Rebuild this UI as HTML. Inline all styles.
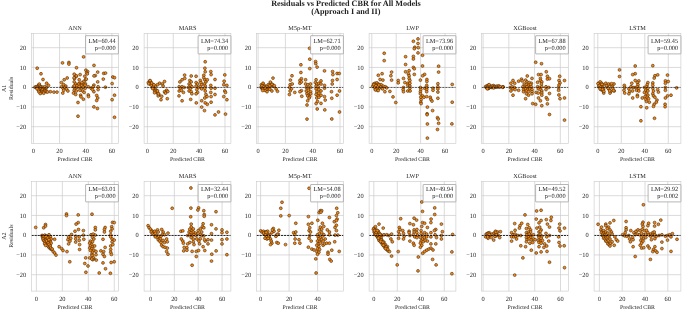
<!DOCTYPE html><html><head><meta charset="utf-8"><title>Residuals vs Predicted CBR</title><style>html,body{margin:0;padding:0;background:#fff}svg{display:block;filter:blur(0.3px)}</style></head><body><svg text-rendering="geometricPrecision" width="685" height="311" viewBox="0 0 685 311" font-family="Liberation Serif, serif">
<rect width="685" height="311" fill="#fff"/>
<text x="345.9" y="5.6" font-size="8.18" font-weight="bold" text-anchor="middle" fill="#222">Residuals vs Predicted CBR for All Models</text>
<text x="345.9" y="13.8" font-size="8.18" font-weight="bold" text-anchor="middle" fill="#222">(Approach I and II)</text>
<g>
<clipPath id="c0"><rect x="31.6" y="33.3" width="86.8" height="110.10000000000001"/></clipPath>
<line x1="33.40" x2="33.40" y1="33.3" y2="143.4" stroke="#cccccc" stroke-width="0.7"/>
<text x="33.40" y="153.0" font-size="6.4" text-anchor="middle" fill="#262626">0</text>
<line x1="59.56" x2="59.56" y1="33.3" y2="143.4" stroke="#cccccc" stroke-width="0.7"/>
<text x="59.56" y="153.0" font-size="6.4" text-anchor="middle" fill="#262626">20</text>
<line x1="85.72" x2="85.72" y1="33.3" y2="143.4" stroke="#cccccc" stroke-width="0.7"/>
<text x="85.72" y="153.0" font-size="6.4" text-anchor="middle" fill="#262626">40</text>
<line x1="111.88" x2="111.88" y1="33.3" y2="143.4" stroke="#cccccc" stroke-width="0.7"/>
<text x="111.88" y="153.0" font-size="6.4" text-anchor="middle" fill="#262626">60</text>
<line x1="31.6" x2="118.4" y1="47.70" y2="47.70" stroke="#cccccc" stroke-width="0.7"/>
<text x="26.2" y="49.90" font-size="6.4" text-anchor="end" fill="#262626">20</text>
<line x1="31.6" x2="118.4" y1="67.45" y2="67.45" stroke="#cccccc" stroke-width="0.7"/>
<text x="26.2" y="69.65" font-size="6.4" text-anchor="end" fill="#262626">10</text>
<line x1="31.6" x2="118.4" y1="87.20" y2="87.20" stroke="#cccccc" stroke-width="0.7"/>
<text x="26.2" y="89.40" font-size="6.4" text-anchor="end" fill="#262626">0</text>
<line x1="31.6" x2="118.4" y1="106.95" y2="106.95" stroke="#cccccc" stroke-width="0.7"/>
<text x="26.2" y="109.15" font-size="6.4" text-anchor="end" fill="#262626">−10</text>
<line x1="31.6" x2="118.4" y1="126.70" y2="126.70" stroke="#cccccc" stroke-width="0.7"/>
<text x="26.2" y="128.90" font-size="6.4" text-anchor="end" fill="#262626">−20</text>
<g clip-path="url(#c0)" fill="#f58812" stroke="#38230f" stroke-width="0.55">
<circle cx="83.6" cy="56.9" r="1.45"/>
<circle cx="62.5" cy="62.9" r="1.45"/>
<circle cx="68.9" cy="62.5" r="1.45"/>
<circle cx="68.9" cy="64.1" r="1.45"/>
<circle cx="94.0" cy="65.4" r="1.45"/>
<circle cx="37.2" cy="68.2" r="1.45"/>
<circle cx="76.5" cy="67.8" r="1.45"/>
<circle cx="85.9" cy="70.2" r="1.45"/>
<circle cx="87.6" cy="71.6" r="1.45"/>
<circle cx="86.6" cy="72.8" r="1.45"/>
<circle cx="41.0" cy="73.8" r="1.45"/>
<circle cx="97.7" cy="72.1" r="1.45"/>
<circle cx="103.7" cy="73.4" r="1.45"/>
<circle cx="105.5" cy="73.1" r="1.45"/>
<circle cx="74.2" cy="74.2" r="1.45"/>
<circle cx="80.1" cy="74.6" r="1.45"/>
<circle cx="95.3" cy="75.6" r="1.45"/>
<circle cx="112.8" cy="77.0" r="1.45"/>
<circle cx="114.5" cy="77.7" r="1.45"/>
<circle cx="43.0" cy="79.5" r="1.45"/>
<circle cx="67.2" cy="78.0" r="1.45"/>
<circle cx="64.2" cy="79.8" r="1.45"/>
<circle cx="76.3" cy="76.3" r="1.45"/>
<circle cx="74.5" cy="78.7" r="1.45"/>
<circle cx="79.2" cy="79.8" r="1.45"/>
<circle cx="84.8" cy="76.3" r="1.45"/>
<circle cx="85.5" cy="79.8" r="1.45"/>
<circle cx="83.8" cy="81.5" r="1.45"/>
<circle cx="103.3" cy="79.1" r="1.45"/>
<circle cx="97.7" cy="81.9" r="1.45"/>
<circle cx="46.6" cy="83.3" r="1.45"/>
<circle cx="61.4" cy="82.6" r="1.45"/>
<circle cx="112.1" cy="83.6" r="1.45"/>
<circle cx="48.5" cy="85.4" r="1.45"/>
<circle cx="63.7" cy="84.7" r="1.45"/>
<circle cx="65.8" cy="86.1" r="1.45"/>
<circle cx="74.2" cy="81.9" r="1.45"/>
<circle cx="75.7" cy="84.0" r="1.45"/>
<circle cx="79.2" cy="83.3" r="1.45"/>
<circle cx="82.0" cy="84.0" r="1.45"/>
<circle cx="85.5" cy="84.0" r="1.45"/>
<circle cx="93.9" cy="85.1" r="1.45"/>
<circle cx="50.4" cy="91.7" r="1.45"/>
<circle cx="53.9" cy="92.1" r="1.45"/>
<circle cx="57.0" cy="92.1" r="1.45"/>
<circle cx="61.6" cy="86.8" r="1.45"/>
<circle cx="63.0" cy="88.2" r="1.45"/>
<circle cx="65.1" cy="87.5" r="1.45"/>
<circle cx="66.5" cy="88.9" r="1.45"/>
<circle cx="67.9" cy="91.0" r="1.45"/>
<circle cx="63.7" cy="90.3" r="1.45"/>
<circle cx="62.8" cy="93.1" r="1.45"/>
<circle cx="73.5" cy="86.8" r="1.45"/>
<circle cx="75.0" cy="88.2" r="1.45"/>
<circle cx="77.0" cy="87.5" r="1.45"/>
<circle cx="79.2" cy="86.8" r="1.45"/>
<circle cx="81.3" cy="87.9" r="1.45"/>
<circle cx="83.4" cy="86.8" r="1.45"/>
<circle cx="85.2" cy="88.2" r="1.45"/>
<circle cx="74.2" cy="90.3" r="1.45"/>
<circle cx="76.3" cy="91.0" r="1.45"/>
<circle cx="79.9" cy="90.3" r="1.45"/>
<circle cx="82.7" cy="91.0" r="1.45"/>
<circle cx="84.1" cy="92.4" r="1.45"/>
<circle cx="73.5" cy="93.1" r="1.45"/>
<circle cx="75.7" cy="94.5" r="1.45"/>
<circle cx="88.3" cy="86.8" r="1.45"/>
<circle cx="91.1" cy="88.2" r="1.45"/>
<circle cx="93.2" cy="86.8" r="1.45"/>
<circle cx="93.9" cy="91.7" r="1.45"/>
<circle cx="92.5" cy="89.6" r="1.45"/>
<circle cx="98.1" cy="86.8" r="1.45"/>
<circle cx="98.1" cy="89.6" r="1.45"/>
<circle cx="105.4" cy="87.2" r="1.45"/>
<circle cx="80.6" cy="95.2" r="1.45"/>
<circle cx="81.0" cy="96.9" r="1.45"/>
<circle cx="88.3" cy="95.0" r="1.45"/>
<circle cx="88.5" cy="96.6" r="1.45"/>
<circle cx="96.7" cy="95.5" r="1.45"/>
<circle cx="97.7" cy="98.0" r="1.45"/>
<circle cx="114.5" cy="95.2" r="1.45"/>
<circle cx="83.4" cy="99.2" r="1.45"/>
<circle cx="96.7" cy="100.5" r="1.45"/>
<circle cx="112.1" cy="99.7" r="1.45"/>
<circle cx="78.0" cy="102.5" r="1.45"/>
<circle cx="93.9" cy="106.9" r="1.45"/>
<circle cx="97.4" cy="108.5" r="1.45"/>
<circle cx="78.0" cy="116.2" r="1.45"/>
<circle cx="114.5" cy="117.3" r="1.45"/>
<circle cx="35.0" cy="87.2" r="1.45"/>
<circle cx="36.1" cy="86.8" r="1.45"/>
<circle cx="37.0" cy="87.6" r="1.45"/>
<circle cx="37.6" cy="86.2" r="1.45"/>
<circle cx="38.2" cy="87.3" r="1.45"/>
<circle cx="38.8" cy="85.0" r="1.45"/>
<circle cx="39.3" cy="84.1" r="1.45"/>
<circle cx="39.9" cy="86.2" r="1.45"/>
<circle cx="39.0" cy="88.5" r="1.45"/>
<circle cx="40.2" cy="87.6" r="1.45"/>
<circle cx="41.1" cy="86.8" r="1.45"/>
<circle cx="41.7" cy="88.2" r="1.45"/>
<circle cx="42.5" cy="87.3" r="1.45"/>
<circle cx="40.5" cy="89.4" r="1.45"/>
<circle cx="39.3" cy="90.3" r="1.45"/>
<circle cx="41.7" cy="90.0" r="1.45"/>
<circle cx="42.9" cy="89.1" r="1.45"/>
<circle cx="44.0" cy="87.9" r="1.45"/>
<circle cx="44.9" cy="88.8" r="1.45"/>
<circle cx="46.1" cy="88.5" r="1.45"/>
<circle cx="39.9" cy="91.7" r="1.45"/>
<circle cx="41.1" cy="92.6" r="1.45"/>
<circle cx="42.5" cy="92.0" r="1.45"/>
<circle cx="44.0" cy="91.7" r="1.45"/>
<circle cx="45.2" cy="91.1" r="1.45"/>
<circle cx="46.6" cy="91.7" r="1.45"/>
<circle cx="47.5" cy="92.0" r="1.45"/>
<circle cx="43.7" cy="93.2" r="1.45"/>
<circle cx="40.2" cy="93.5" r="1.45"/>
<circle cx="38.8" cy="91.7" r="1.45"/>
<circle cx="38.2" cy="89.7" r="1.45"/>
<circle cx="37.0" cy="88.8" r="1.45"/>
<circle cx="45.8" cy="87.3" r="1.45"/>
<circle cx="44.6" cy="86.8" r="1.45"/>
<circle cx="74.1" cy="77.8" r="1.45"/>
<circle cx="76.4" cy="75.9" r="1.45"/>
<circle cx="86.3" cy="79.1" r="1.45"/>
<circle cx="81.8" cy="82.6" r="1.45"/>
<circle cx="78.6" cy="84.2" r="1.45"/>
<circle cx="81.8" cy="85.5" r="1.45"/>
<circle cx="85.0" cy="85.2" r="1.45"/>
<circle cx="74.4" cy="85.8" r="1.45"/>
<circle cx="77.0" cy="85.8" r="1.45"/>
<circle cx="94.0" cy="75.9" r="1.45"/>
<circle cx="87.3" cy="73.9" r="1.45"/>
<circle cx="79.2" cy="86.5" r="1.45"/>
<circle cx="83.1" cy="87.1" r="1.45"/>
</g>
<line x1="31.6" x2="118.4" y1="87.50" y2="87.50" stroke="#0a0a0a" stroke-width="0.6" stroke-dasharray="2.1,0.95"/>
<rect x="31.6" y="33.3" width="86.8" height="110.10000000000001" fill="none" stroke="#c8c8c8" stroke-width="0.6"/>
<rect x="85.6" y="35.699999999999996" width="32.8" height="18.2" rx="0.4" fill="#fff" fill-opacity="0.9" stroke="#8f8f8f" stroke-width="0.65"/>
<text x="115.6" y="43.1" font-size="6.3" text-anchor="end" fill="#222">LM=60.44</text>
<text x="115.6" y="49.9" font-size="6.3" text-anchor="end" fill="#222">p=0.000</text>
<text x="75.0" y="30.2" font-size="6.25" text-anchor="middle" fill="#262626">ANN</text>
<text x="75.0" y="161.0" font-size="5.8" text-anchor="middle" fill="#262626">Predicted CBR</text>
<text transform="translate(5.6,88.3) rotate(-90)" font-size="6" text-anchor="middle" fill="#262626">A1</text>
<text transform="translate(12.9,88.3) rotate(-90)" font-size="6" text-anchor="middle" fill="#262626">Residuals</text>
</g>
<g>
<clipPath id="c1"><rect x="144.1" y="33.3" width="86.8" height="110.10000000000001"/></clipPath>
<line x1="147.40" x2="147.40" y1="33.3" y2="143.4" stroke="#cccccc" stroke-width="0.7"/>
<text x="147.40" y="153.0" font-size="6.4" text-anchor="middle" fill="#262626">0</text>
<line x1="173.26" x2="173.26" y1="33.3" y2="143.4" stroke="#cccccc" stroke-width="0.7"/>
<text x="173.26" y="153.0" font-size="6.4" text-anchor="middle" fill="#262626">20</text>
<line x1="199.12" x2="199.12" y1="33.3" y2="143.4" stroke="#cccccc" stroke-width="0.7"/>
<text x="199.12" y="153.0" font-size="6.4" text-anchor="middle" fill="#262626">40</text>
<line x1="224.98" x2="224.98" y1="33.3" y2="143.4" stroke="#cccccc" stroke-width="0.7"/>
<text x="224.98" y="153.0" font-size="6.4" text-anchor="middle" fill="#262626">60</text>
<line x1="144.1" x2="230.89999999999998" y1="47.70" y2="47.70" stroke="#cccccc" stroke-width="0.7"/>
<text x="138.7" y="49.90" font-size="6.4" text-anchor="end" fill="#262626">20</text>
<line x1="144.1" x2="230.89999999999998" y1="67.45" y2="67.45" stroke="#cccccc" stroke-width="0.7"/>
<text x="138.7" y="69.65" font-size="6.4" text-anchor="end" fill="#262626">10</text>
<line x1="144.1" x2="230.89999999999998" y1="87.20" y2="87.20" stroke="#cccccc" stroke-width="0.7"/>
<text x="138.7" y="89.40" font-size="6.4" text-anchor="end" fill="#262626">0</text>
<line x1="144.1" x2="230.89999999999998" y1="106.95" y2="106.95" stroke="#cccccc" stroke-width="0.7"/>
<text x="138.7" y="109.15" font-size="6.4" text-anchor="end" fill="#262626">−10</text>
<line x1="144.1" x2="230.89999999999998" y1="126.70" y2="126.70" stroke="#cccccc" stroke-width="0.7"/>
<text x="138.7" y="128.90" font-size="6.4" text-anchor="end" fill="#262626">−20</text>
<g clip-path="url(#c1)" fill="#f58812" stroke="#38230f" stroke-width="0.55">
<circle cx="205.2" cy="61.8" r="1.45"/>
<circle cx="204.9" cy="68.3" r="1.45"/>
<circle cx="205.2" cy="71.8" r="1.45"/>
<circle cx="210.8" cy="71.6" r="1.45"/>
<circle cx="211.1" cy="74.6" r="1.45"/>
<circle cx="203.8" cy="75.3" r="1.45"/>
<circle cx="184.6" cy="75.1" r="1.45"/>
<circle cx="191.2" cy="76.0" r="1.45"/>
<circle cx="196.1" cy="76.3" r="1.45"/>
<circle cx="224.8" cy="74.9" r="1.45"/>
<circle cx="148.4" cy="82.6" r="1.45"/>
<circle cx="149.8" cy="80.9" r="1.45"/>
<circle cx="150.9" cy="82.3" r="1.45"/>
<circle cx="150.1" cy="84.0" r="1.45"/>
<circle cx="151.9" cy="84.0" r="1.45"/>
<circle cx="153.3" cy="85.4" r="1.45"/>
<circle cx="154.0" cy="86.8" r="1.45"/>
<circle cx="155.4" cy="86.1" r="1.45"/>
<circle cx="152.3" cy="87.5" r="1.45"/>
<circle cx="154.0" cy="88.9" r="1.45"/>
<circle cx="155.7" cy="89.6" r="1.45"/>
<circle cx="156.8" cy="91.0" r="1.45"/>
<circle cx="154.7" cy="91.0" r="1.45"/>
<circle cx="157.5" cy="93.1" r="1.45"/>
<circle cx="158.9" cy="94.5" r="1.45"/>
<circle cx="158.2" cy="95.9" r="1.45"/>
<circle cx="161.7" cy="96.3" r="1.45"/>
<circle cx="161.0" cy="99.7" r="1.45"/>
<circle cx="167.3" cy="98.7" r="1.45"/>
<circle cx="159.6" cy="83.3" r="1.45"/>
<circle cx="162.4" cy="84.0" r="1.45"/>
<circle cx="164.5" cy="81.5" r="1.45"/>
<circle cx="163.1" cy="86.1" r="1.45"/>
<circle cx="166.6" cy="90.3" r="1.45"/>
<circle cx="165.2" cy="92.4" r="1.45"/>
<circle cx="157.5" cy="84.7" r="1.45"/>
<circle cx="179.9" cy="81.9" r="1.45"/>
<circle cx="182.1" cy="79.8" r="1.45"/>
<circle cx="184.8" cy="78.4" r="1.45"/>
<circle cx="179.2" cy="86.8" r="1.45"/>
<circle cx="180.6" cy="88.2" r="1.45"/>
<circle cx="182.1" cy="86.8" r="1.45"/>
<circle cx="184.2" cy="87.5" r="1.45"/>
<circle cx="179.2" cy="91.0" r="1.45"/>
<circle cx="181.3" cy="90.3" r="1.45"/>
<circle cx="183.4" cy="92.4" r="1.45"/>
<circle cx="179.0" cy="95.9" r="1.45"/>
<circle cx="182.1" cy="100.8" r="1.45"/>
<circle cx="189.8" cy="80.5" r="1.45"/>
<circle cx="191.2" cy="81.9" r="1.45"/>
<circle cx="189.1" cy="84.0" r="1.45"/>
<circle cx="190.5" cy="85.4" r="1.45"/>
<circle cx="188.3" cy="87.5" r="1.45"/>
<circle cx="190.5" cy="88.2" r="1.45"/>
<circle cx="191.9" cy="86.8" r="1.45"/>
<circle cx="189.1" cy="91.0" r="1.45"/>
<circle cx="191.2" cy="91.7" r="1.45"/>
<circle cx="191.9" cy="93.8" r="1.45"/>
<circle cx="190.7" cy="99.4" r="1.45"/>
<circle cx="196.1" cy="82.6" r="1.45"/>
<circle cx="197.5" cy="84.0" r="1.45"/>
<circle cx="196.1" cy="86.1" r="1.45"/>
<circle cx="198.2" cy="87.5" r="1.45"/>
<circle cx="196.8" cy="89.6" r="1.45"/>
<circle cx="197.5" cy="92.4" r="1.45"/>
<circle cx="196.1" cy="93.8" r="1.45"/>
<circle cx="196.3" cy="102.9" r="1.45"/>
<circle cx="200.3" cy="80.5" r="1.45"/>
<circle cx="201.0" cy="82.6" r="1.45"/>
<circle cx="201.7" cy="84.7" r="1.45"/>
<circle cx="200.3" cy="86.8" r="1.45"/>
<circle cx="201.7" cy="88.9" r="1.45"/>
<circle cx="203.8" cy="77.7" r="1.45"/>
<circle cx="204.8" cy="79.8" r="1.45"/>
<circle cx="205.9" cy="81.9" r="1.45"/>
<circle cx="204.5" cy="84.0" r="1.45"/>
<circle cx="205.2" cy="86.1" r="1.45"/>
<circle cx="204.8" cy="88.2" r="1.45"/>
<circle cx="205.2" cy="91.0" r="1.45"/>
<circle cx="205.9" cy="94.5" r="1.45"/>
<circle cx="207.0" cy="96.6" r="1.45"/>
<circle cx="204.8" cy="98.0" r="1.45"/>
<circle cx="201.7" cy="100.8" r="1.45"/>
<circle cx="205.2" cy="102.9" r="1.45"/>
<circle cx="207.3" cy="104.3" r="1.45"/>
<circle cx="201.7" cy="107.1" r="1.45"/>
<circle cx="204.5" cy="110.6" r="1.45"/>
<circle cx="207.3" cy="79.8" r="1.45"/>
<circle cx="210.8" cy="85.4" r="1.45"/>
<circle cx="211.1" cy="88.2" r="1.45"/>
<circle cx="210.8" cy="92.4" r="1.45"/>
<circle cx="211.1" cy="96.6" r="1.45"/>
<circle cx="211.1" cy="102.2" r="1.45"/>
<circle cx="215.0" cy="79.5" r="1.45"/>
<circle cx="215.0" cy="88.2" r="1.45"/>
<circle cx="215.0" cy="94.5" r="1.45"/>
<circle cx="224.1" cy="81.2" r="1.45"/>
<circle cx="223.8" cy="84.7" r="1.45"/>
<circle cx="226.9" cy="85.4" r="1.45"/>
<circle cx="224.8" cy="91.0" r="1.45"/>
<circle cx="225.5" cy="92.4" r="1.45"/>
<circle cx="223.8" cy="96.6" r="1.45"/>
<circle cx="226.9" cy="99.7" r="1.45"/>
<circle cx="218.5" cy="112.0" r="1.45"/>
<circle cx="215.0" cy="114.9" r="1.45"/>
<circle cx="225.5" cy="114.1" r="1.45"/>
<circle cx="150.1" cy="80.6" r="1.45"/>
<circle cx="148.8" cy="83.8" r="1.45"/>
<circle cx="151.4" cy="85.1" r="1.45"/>
<circle cx="153.3" cy="87.0" r="1.45"/>
<circle cx="152.7" cy="88.6" r="1.45"/>
<circle cx="155.9" cy="91.5" r="1.45"/>
<circle cx="154.6" cy="92.8" r="1.45"/>
<circle cx="157.5" cy="90.9" r="1.45"/>
<circle cx="158.4" cy="93.8" r="1.45"/>
<circle cx="151.7" cy="83.1" r="1.45"/>
<circle cx="153.9" cy="84.8" r="1.45"/>
<circle cx="164.5" cy="91.8" r="1.45"/>
<circle cx="167.8" cy="91.5" r="1.45"/>
<circle cx="165.5" cy="93.1" r="1.45"/>
</g>
<line x1="144.1" x2="230.89999999999998" y1="87.50" y2="87.50" stroke="#0a0a0a" stroke-width="0.6" stroke-dasharray="2.1,0.95"/>
<rect x="144.1" y="33.3" width="86.8" height="110.10000000000001" fill="none" stroke="#c8c8c8" stroke-width="0.6"/>
<rect x="198.1" y="35.699999999999996" width="32.8" height="18.2" rx="0.4" fill="#fff" fill-opacity="0.9" stroke="#8f8f8f" stroke-width="0.65"/>
<text x="228.1" y="43.1" font-size="6.3" text-anchor="end" fill="#222">LM=74.34</text>
<text x="228.1" y="49.9" font-size="6.3" text-anchor="end" fill="#222">p=0.000</text>
<text x="187.5" y="30.2" font-size="6.25" text-anchor="middle" fill="#262626">MARS</text>
<text x="187.5" y="161.0" font-size="5.8" text-anchor="middle" fill="#262626">Predicted CBR</text>
</g>
<g>
<clipPath id="c2"><rect x="256.6" y="33.3" width="86.8" height="110.10000000000001"/></clipPath>
<line x1="258.10" x2="258.10" y1="33.3" y2="143.4" stroke="#cccccc" stroke-width="0.7"/>
<text x="258.10" y="153.0" font-size="6.4" text-anchor="middle" fill="#262626">0</text>
<line x1="285.40" x2="285.40" y1="33.3" y2="143.4" stroke="#cccccc" stroke-width="0.7"/>
<text x="285.40" y="153.0" font-size="6.4" text-anchor="middle" fill="#262626">20</text>
<line x1="312.70" x2="312.70" y1="33.3" y2="143.4" stroke="#cccccc" stroke-width="0.7"/>
<text x="312.70" y="153.0" font-size="6.4" text-anchor="middle" fill="#262626">40</text>
<line x1="340.00" x2="340.00" y1="33.3" y2="143.4" stroke="#cccccc" stroke-width="0.7"/>
<text x="340.00" y="153.0" font-size="6.4" text-anchor="middle" fill="#262626">60</text>
<line x1="256.6" x2="343.40000000000003" y1="47.70" y2="47.70" stroke="#cccccc" stroke-width="0.7"/>
<text x="251.2" y="49.90" font-size="6.4" text-anchor="end" fill="#262626">20</text>
<line x1="256.6" x2="343.40000000000003" y1="67.45" y2="67.45" stroke="#cccccc" stroke-width="0.7"/>
<text x="251.2" y="69.65" font-size="6.4" text-anchor="end" fill="#262626">10</text>
<line x1="256.6" x2="343.40000000000003" y1="87.20" y2="87.20" stroke="#cccccc" stroke-width="0.7"/>
<text x="251.2" y="89.40" font-size="6.4" text-anchor="end" fill="#262626">0</text>
<line x1="256.6" x2="343.40000000000003" y1="106.95" y2="106.95" stroke="#cccccc" stroke-width="0.7"/>
<text x="251.2" y="109.15" font-size="6.4" text-anchor="end" fill="#262626">−10</text>
<line x1="256.6" x2="343.40000000000003" y1="126.70" y2="126.70" stroke="#cccccc" stroke-width="0.7"/>
<text x="251.2" y="128.90" font-size="6.4" text-anchor="end" fill="#262626">−20</text>
<g clip-path="url(#c2)" fill="#f58812" stroke="#38230f" stroke-width="0.55">
<circle cx="309.6" cy="48.3" r="1.45"/>
<circle cx="309.8" cy="59.2" r="1.45"/>
<circle cx="315.6" cy="61.6" r="1.45"/>
<circle cx="315.8" cy="63.7" r="1.45"/>
<circle cx="300.9" cy="64.8" r="1.45"/>
<circle cx="317.1" cy="67.1" r="1.45"/>
<circle cx="309.8" cy="68.6" r="1.45"/>
<circle cx="324.5" cy="70.9" r="1.45"/>
<circle cx="300.9" cy="72.5" r="1.45"/>
<circle cx="332.6" cy="71.6" r="1.45"/>
<circle cx="332.9" cy="74.6" r="1.45"/>
<circle cx="337.1" cy="73.5" r="1.45"/>
<circle cx="339.2" cy="73.5" r="1.45"/>
<circle cx="292.0" cy="75.8" r="1.45"/>
<circle cx="273.0" cy="78.1" r="1.45"/>
<circle cx="337.1" cy="79.5" r="1.45"/>
<circle cx="290.4" cy="80.1" r="1.45"/>
<circle cx="301.4" cy="78.7" r="1.45"/>
<circle cx="299.9" cy="80.5" r="1.45"/>
<circle cx="305.6" cy="79.8" r="1.45"/>
<circle cx="316.1" cy="79.8" r="1.45"/>
<circle cx="321.0" cy="80.9" r="1.45"/>
<circle cx="332.5" cy="80.5" r="1.45"/>
<circle cx="261.4" cy="84.7" r="1.45"/>
<circle cx="263.1" cy="83.3" r="1.45"/>
<circle cx="264.2" cy="85.4" r="1.45"/>
<circle cx="262.8" cy="86.8" r="1.45"/>
<circle cx="261.7" cy="88.2" r="1.45"/>
<circle cx="263.5" cy="88.9" r="1.45"/>
<circle cx="265.6" cy="87.5" r="1.45"/>
<circle cx="267.0" cy="86.1" r="1.45"/>
<circle cx="268.4" cy="84.7" r="1.45"/>
<circle cx="270.5" cy="83.3" r="1.45"/>
<circle cx="271.2" cy="85.4" r="1.45"/>
<circle cx="269.8" cy="87.5" r="1.45"/>
<circle cx="272.6" cy="84.7" r="1.45"/>
<circle cx="274.0" cy="86.5" r="1.45"/>
<circle cx="267.0" cy="89.6" r="1.45"/>
<circle cx="269.1" cy="88.9" r="1.45"/>
<circle cx="271.9" cy="91.0" r="1.45"/>
<circle cx="276.1" cy="88.9" r="1.45"/>
<circle cx="277.5" cy="91.3" r="1.45"/>
<circle cx="267.0" cy="91.7" r="1.45"/>
<circle cx="264.9" cy="90.3" r="1.45"/>
<circle cx="290.1" cy="84.7" r="1.45"/>
<circle cx="292.2" cy="84.0" r="1.45"/>
<circle cx="289.7" cy="87.5" r="1.45"/>
<circle cx="291.5" cy="88.9" r="1.45"/>
<circle cx="290.1" cy="91.0" r="1.45"/>
<circle cx="294.8" cy="92.4" r="1.45"/>
<circle cx="289.4" cy="94.5" r="1.45"/>
<circle cx="299.9" cy="83.3" r="1.45"/>
<circle cx="301.4" cy="81.9" r="1.45"/>
<circle cx="305.6" cy="84.0" r="1.45"/>
<circle cx="307.9" cy="84.7" r="1.45"/>
<circle cx="310.5" cy="84.0" r="1.45"/>
<circle cx="306.3" cy="87.5" r="1.45"/>
<circle cx="308.4" cy="88.2" r="1.45"/>
<circle cx="310.5" cy="87.5" r="1.45"/>
<circle cx="301.4" cy="90.7" r="1.45"/>
<circle cx="299.9" cy="91.7" r="1.45"/>
<circle cx="306.3" cy="91.0" r="1.45"/>
<circle cx="308.4" cy="90.3" r="1.45"/>
<circle cx="310.5" cy="91.7" r="1.45"/>
<circle cx="307.0" cy="93.8" r="1.45"/>
<circle cx="309.1" cy="94.5" r="1.45"/>
<circle cx="310.7" cy="93.8" r="1.45"/>
<circle cx="307.7" cy="95.9" r="1.45"/>
<circle cx="309.8" cy="96.6" r="1.45"/>
<circle cx="301.8" cy="96.3" r="1.45"/>
<circle cx="309.1" cy="98.0" r="1.45"/>
<circle cx="307.7" cy="100.8" r="1.45"/>
<circle cx="307.0" cy="105.0" r="1.45"/>
<circle cx="315.4" cy="82.6" r="1.45"/>
<circle cx="316.8" cy="84.0" r="1.45"/>
<circle cx="318.9" cy="83.3" r="1.45"/>
<circle cx="321.0" cy="84.0" r="1.45"/>
<circle cx="316.1" cy="86.1" r="1.45"/>
<circle cx="318.2" cy="86.8" r="1.45"/>
<circle cx="316.1" cy="88.9" r="1.45"/>
<circle cx="318.9" cy="89.6" r="1.45"/>
<circle cx="321.0" cy="91.0" r="1.45"/>
<circle cx="316.8" cy="91.7" r="1.45"/>
<circle cx="318.9" cy="93.1" r="1.45"/>
<circle cx="316.1" cy="94.5" r="1.45"/>
<circle cx="318.2" cy="95.9" r="1.45"/>
<circle cx="321.0" cy="95.2" r="1.45"/>
<circle cx="316.8" cy="98.0" r="1.45"/>
<circle cx="318.9" cy="97.3" r="1.45"/>
<circle cx="317.5" cy="101.5" r="1.45"/>
<circle cx="316.1" cy="103.6" r="1.45"/>
<circle cx="321.0" cy="103.4" r="1.45"/>
<circle cx="317.2" cy="109.0" r="1.45"/>
<circle cx="324.5" cy="85.4" r="1.45"/>
<circle cx="324.5" cy="88.2" r="1.45"/>
<circle cx="324.5" cy="96.6" r="1.45"/>
<circle cx="325.2" cy="100.1" r="1.45"/>
<circle cx="324.8" cy="109.9" r="1.45"/>
<circle cx="332.2" cy="84.0" r="1.45"/>
<circle cx="331.5" cy="91.7" r="1.45"/>
<circle cx="337.1" cy="95.2" r="1.45"/>
<circle cx="339.5" cy="91.0" r="1.45"/>
<circle cx="331.8" cy="98.3" r="1.45"/>
<circle cx="339.5" cy="112.0" r="1.45"/>
<circle cx="307.0" cy="119.1" r="1.45"/>
<circle cx="331.8" cy="119.0" r="1.45"/>
<circle cx="261.1" cy="87.2" r="1.45"/>
<circle cx="262.1" cy="85.7" r="1.45"/>
<circle cx="263.0" cy="88.9" r="1.45"/>
<circle cx="264.0" cy="86.6" r="1.45"/>
<circle cx="265.0" cy="87.9" r="1.45"/>
<circle cx="262.7" cy="90.5" r="1.45"/>
<circle cx="270.4" cy="82.1" r="1.45"/>
<circle cx="269.8" cy="85.7" r="1.45"/>
<circle cx="272.0" cy="84.4" r="1.45"/>
<circle cx="274.3" cy="85.7" r="1.45"/>
<circle cx="269.8" cy="89.2" r="1.45"/>
</g>
<line x1="256.6" x2="343.40000000000003" y1="87.50" y2="87.50" stroke="#0a0a0a" stroke-width="0.6" stroke-dasharray="2.1,0.95"/>
<rect x="256.6" y="33.3" width="86.8" height="110.10000000000001" fill="none" stroke="#c8c8c8" stroke-width="0.6"/>
<rect x="310.6" y="35.699999999999996" width="32.8" height="18.2" rx="0.4" fill="#fff" fill-opacity="0.9" stroke="#8f8f8f" stroke-width="0.65"/>
<text x="340.6" y="43.1" font-size="6.3" text-anchor="end" fill="#222">LM=62.71</text>
<text x="340.6" y="49.9" font-size="6.3" text-anchor="end" fill="#222">p=0.000</text>
<text x="300.0" y="30.2" font-size="6.25" text-anchor="middle" fill="#262626">M5p-MT</text>
<text x="300.0" y="161.0" font-size="5.8" text-anchor="middle" fill="#262626">Predicted CBR</text>
</g>
<g>
<clipPath id="c3"><rect x="369.1" y="33.3" width="86.8" height="110.10000000000001"/></clipPath>
<line x1="371.80" x2="371.80" y1="33.3" y2="143.4" stroke="#cccccc" stroke-width="0.7"/>
<text x="371.80" y="153.0" font-size="6.4" text-anchor="middle" fill="#262626">0</text>
<line x1="396.20" x2="396.20" y1="33.3" y2="143.4" stroke="#cccccc" stroke-width="0.7"/>
<text x="396.20" y="153.0" font-size="6.4" text-anchor="middle" fill="#262626">20</text>
<line x1="420.60" x2="420.60" y1="33.3" y2="143.4" stroke="#cccccc" stroke-width="0.7"/>
<text x="420.60" y="153.0" font-size="6.4" text-anchor="middle" fill="#262626">40</text>
<line x1="445.00" x2="445.00" y1="33.3" y2="143.4" stroke="#cccccc" stroke-width="0.7"/>
<text x="445.00" y="153.0" font-size="6.4" text-anchor="middle" fill="#262626">60</text>
<line x1="369.1" x2="455.90000000000003" y1="47.70" y2="47.70" stroke="#cccccc" stroke-width="0.7"/>
<text x="363.7" y="49.90" font-size="6.4" text-anchor="end" fill="#262626">20</text>
<line x1="369.1" x2="455.90000000000003" y1="67.45" y2="67.45" stroke="#cccccc" stroke-width="0.7"/>
<text x="363.7" y="69.65" font-size="6.4" text-anchor="end" fill="#262626">10</text>
<line x1="369.1" x2="455.90000000000003" y1="87.20" y2="87.20" stroke="#cccccc" stroke-width="0.7"/>
<text x="363.7" y="89.40" font-size="6.4" text-anchor="end" fill="#262626">0</text>
<line x1="369.1" x2="455.90000000000003" y1="106.95" y2="106.95" stroke="#cccccc" stroke-width="0.7"/>
<text x="363.7" y="109.15" font-size="6.4" text-anchor="end" fill="#262626">−10</text>
<line x1="369.1" x2="455.90000000000003" y1="126.70" y2="126.70" stroke="#cccccc" stroke-width="0.7"/>
<text x="363.7" y="128.90" font-size="6.4" text-anchor="end" fill="#262626">−20</text>
<g clip-path="url(#c3)" fill="#f58812" stroke="#38230f" stroke-width="0.55">
<circle cx="418.0" cy="38.9" r="1.45"/>
<circle cx="413.4" cy="41.3" r="1.45"/>
<circle cx="418.0" cy="43.5" r="1.45"/>
<circle cx="414.8" cy="47.3" r="1.45"/>
<circle cx="418.3" cy="47.7" r="1.45"/>
<circle cx="414.3" cy="48.7" r="1.45"/>
<circle cx="418.0" cy="52.9" r="1.45"/>
<circle cx="384.2" cy="53.3" r="1.45"/>
<circle cx="422.5" cy="55.3" r="1.45"/>
<circle cx="405.6" cy="56.7" r="1.45"/>
<circle cx="413.4" cy="56.4" r="1.45"/>
<circle cx="413.4" cy="59.0" r="1.45"/>
<circle cx="384.2" cy="60.6" r="1.45"/>
<circle cx="405.6" cy="64.5" r="1.45"/>
<circle cx="422.5" cy="66.0" r="1.45"/>
<circle cx="438.6" cy="66.2" r="1.45"/>
<circle cx="413.4" cy="67.4" r="1.45"/>
<circle cx="414.3" cy="68.8" r="1.45"/>
<circle cx="409.1" cy="70.7" r="1.45"/>
<circle cx="405.6" cy="71.8" r="1.45"/>
<circle cx="438.6" cy="72.1" r="1.45"/>
<circle cx="391.6" cy="72.1" r="1.45"/>
<circle cx="382.1" cy="73.7" r="1.45"/>
<circle cx="408.4" cy="73.9" r="1.45"/>
<circle cx="414.3" cy="74.4" r="1.45"/>
<circle cx="424.6" cy="74.4" r="1.45"/>
<circle cx="378.3" cy="75.3" r="1.45"/>
<circle cx="422.7" cy="75.8" r="1.45"/>
<circle cx="390.9" cy="75.8" r="1.45"/>
<circle cx="409.1" cy="75.8" r="1.45"/>
<circle cx="380.1" cy="79.5" r="1.45"/>
<circle cx="382.9" cy="80.1" r="1.45"/>
<circle cx="391.6" cy="80.1" r="1.45"/>
<circle cx="403.5" cy="78.4" r="1.45"/>
<circle cx="409.1" cy="78.4" r="1.45"/>
<circle cx="409.9" cy="80.5" r="1.45"/>
<circle cx="398.2" cy="80.5" r="1.45"/>
<circle cx="398.2" cy="82.9" r="1.45"/>
<circle cx="420.4" cy="80.1" r="1.45"/>
<circle cx="426.9" cy="79.5" r="1.45"/>
<circle cx="426.9" cy="81.5" r="1.45"/>
<circle cx="373.7" cy="84.0" r="1.45"/>
<circle cx="375.1" cy="83.3" r="1.45"/>
<circle cx="376.9" cy="82.9" r="1.45"/>
<circle cx="378.3" cy="84.0" r="1.45"/>
<circle cx="376.2" cy="85.4" r="1.45"/>
<circle cx="374.1" cy="86.5" r="1.45"/>
<circle cx="375.5" cy="87.9" r="1.45"/>
<circle cx="377.6" cy="86.8" r="1.45"/>
<circle cx="379.0" cy="85.4" r="1.45"/>
<circle cx="381.1" cy="84.7" r="1.45"/>
<circle cx="383.2" cy="86.1" r="1.45"/>
<circle cx="381.8" cy="87.9" r="1.45"/>
<circle cx="375.5" cy="89.6" r="1.45"/>
<circle cx="377.6" cy="90.3" r="1.45"/>
<circle cx="379.0" cy="88.2" r="1.45"/>
<circle cx="385.3" cy="86.8" r="1.45"/>
<circle cx="386.7" cy="87.9" r="1.45"/>
<circle cx="382.5" cy="88.9" r="1.45"/>
<circle cx="384.9" cy="91.7" r="1.45"/>
<circle cx="389.9" cy="91.4" r="1.45"/>
<circle cx="404.9" cy="82.6" r="1.45"/>
<circle cx="407.8" cy="83.3" r="1.45"/>
<circle cx="409.9" cy="83.3" r="1.45"/>
<circle cx="407.8" cy="85.4" r="1.45"/>
<circle cx="409.9" cy="86.1" r="1.45"/>
<circle cx="403.5" cy="87.5" r="1.45"/>
<circle cx="403.1" cy="89.6" r="1.45"/>
<circle cx="403.5" cy="91.7" r="1.45"/>
<circle cx="407.8" cy="91.0" r="1.45"/>
<circle cx="410.1" cy="91.0" r="1.45"/>
<circle cx="409.9" cy="88.2" r="1.45"/>
<circle cx="437.9" cy="83.7" r="1.45"/>
<circle cx="452.2" cy="84.4" r="1.45"/>
<circle cx="420.4" cy="87.5" r="1.45"/>
<circle cx="420.8" cy="89.6" r="1.45"/>
<circle cx="420.4" cy="91.7" r="1.45"/>
<circle cx="420.4" cy="93.8" r="1.45"/>
<circle cx="422.5" cy="95.9" r="1.45"/>
<circle cx="420.8" cy="97.3" r="1.45"/>
<circle cx="421.1" cy="99.7" r="1.45"/>
<circle cx="420.8" cy="102.2" r="1.45"/>
<circle cx="421.1" cy="103.6" r="1.45"/>
<circle cx="424.6" cy="88.2" r="1.45"/>
<circle cx="426.7" cy="85.4" r="1.45"/>
<circle cx="426.9" cy="87.5" r="1.45"/>
<circle cx="426.7" cy="89.6" r="1.45"/>
<circle cx="426.7" cy="91.7" r="1.45"/>
<circle cx="423.9" cy="97.3" r="1.45"/>
<circle cx="426.7" cy="96.6" r="1.45"/>
<circle cx="433.0" cy="88.2" r="1.45"/>
<circle cx="433.0" cy="90.3" r="1.45"/>
<circle cx="437.9" cy="86.8" r="1.45"/>
<circle cx="437.9" cy="88.9" r="1.45"/>
<circle cx="437.9" cy="92.1" r="1.45"/>
<circle cx="437.9" cy="98.3" r="1.45"/>
<circle cx="430.2" cy="97.3" r="1.45"/>
<circle cx="430.9" cy="99.4" r="1.45"/>
<circle cx="432.0" cy="101.1" r="1.45"/>
<circle cx="393.0" cy="96.9" r="1.45"/>
<circle cx="395.8" cy="102.5" r="1.45"/>
<circle cx="452.2" cy="102.2" r="1.45"/>
<circle cx="427.4" cy="107.1" r="1.45"/>
<circle cx="432.6" cy="110.6" r="1.45"/>
<circle cx="427.1" cy="113.8" r="1.45"/>
<circle cx="427.1" cy="114.7" r="1.45"/>
<circle cx="437.5" cy="117.7" r="1.45"/>
<circle cx="438.2" cy="119.1" r="1.45"/>
<circle cx="438.6" cy="123.3" r="1.45"/>
<circle cx="427.4" cy="124.0" r="1.45"/>
<circle cx="451.9" cy="123.9" r="1.45"/>
<circle cx="437.5" cy="129.5" r="1.45"/>
<circle cx="427.4" cy="138.1" r="1.45"/>
<circle cx="372.8" cy="86.3" r="1.45"/>
<circle cx="373.8" cy="84.7" r="1.45"/>
<circle cx="374.7" cy="87.2" r="1.45"/>
<circle cx="376.0" cy="85.7" r="1.45"/>
<circle cx="377.0" cy="88.5" r="1.45"/>
<circle cx="377.9" cy="86.9" r="1.45"/>
<circle cx="375.4" cy="89.8" r="1.45"/>
<circle cx="378.2" cy="90.5" r="1.45"/>
<circle cx="378.9" cy="85.0" r="1.45"/>
</g>
<line x1="369.1" x2="455.90000000000003" y1="87.50" y2="87.50" stroke="#0a0a0a" stroke-width="0.6" stroke-dasharray="2.1,0.95"/>
<rect x="369.1" y="33.3" width="86.8" height="110.10000000000001" fill="none" stroke="#c8c8c8" stroke-width="0.6"/>
<rect x="423.1" y="35.699999999999996" width="32.8" height="18.2" rx="0.4" fill="#fff" fill-opacity="0.9" stroke="#8f8f8f" stroke-width="0.65"/>
<text x="453.1" y="43.1" font-size="6.3" text-anchor="end" fill="#222">LM=73.96</text>
<text x="453.1" y="49.9" font-size="6.3" text-anchor="end" fill="#222">p=0.000</text>
<text x="412.5" y="30.2" font-size="6.25" text-anchor="middle" fill="#262626">LWP</text>
<text x="412.5" y="161.0" font-size="5.8" text-anchor="middle" fill="#262626">Predicted CBR</text>
</g>
<g>
<clipPath id="c4"><rect x="481.6" y="33.3" width="86.8" height="110.10000000000001"/></clipPath>
<line x1="483.10" x2="483.10" y1="33.3" y2="143.4" stroke="#cccccc" stroke-width="0.7"/>
<text x="483.10" y="153.0" font-size="6.4" text-anchor="middle" fill="#262626">0</text>
<line x1="508.84" x2="508.84" y1="33.3" y2="143.4" stroke="#cccccc" stroke-width="0.7"/>
<text x="508.84" y="153.0" font-size="6.4" text-anchor="middle" fill="#262626">20</text>
<line x1="534.58" x2="534.58" y1="33.3" y2="143.4" stroke="#cccccc" stroke-width="0.7"/>
<text x="534.58" y="153.0" font-size="6.4" text-anchor="middle" fill="#262626">40</text>
<line x1="560.32" x2="560.32" y1="33.3" y2="143.4" stroke="#cccccc" stroke-width="0.7"/>
<text x="560.32" y="153.0" font-size="6.4" text-anchor="middle" fill="#262626">60</text>
<line x1="481.6" x2="568.4" y1="47.70" y2="47.70" stroke="#cccccc" stroke-width="0.7"/>
<text x="476.2" y="49.90" font-size="6.4" text-anchor="end" fill="#262626">20</text>
<line x1="481.6" x2="568.4" y1="67.45" y2="67.45" stroke="#cccccc" stroke-width="0.7"/>
<text x="476.2" y="69.65" font-size="6.4" text-anchor="end" fill="#262626">10</text>
<line x1="481.6" x2="568.4" y1="87.20" y2="87.20" stroke="#cccccc" stroke-width="0.7"/>
<text x="476.2" y="89.40" font-size="6.4" text-anchor="end" fill="#262626">0</text>
<line x1="481.6" x2="568.4" y1="106.95" y2="106.95" stroke="#cccccc" stroke-width="0.7"/>
<text x="476.2" y="109.15" font-size="6.4" text-anchor="end" fill="#262626">−10</text>
<line x1="481.6" x2="568.4" y1="126.70" y2="126.70" stroke="#cccccc" stroke-width="0.7"/>
<text x="476.2" y="128.90" font-size="6.4" text-anchor="end" fill="#262626">−20</text>
<g clip-path="url(#c4)" fill="#f58812" stroke="#38230f" stroke-width="0.55">
<circle cx="535.7" cy="62.3" r="1.45"/>
<circle cx="541.5" cy="63.7" r="1.45"/>
<circle cx="546.3" cy="71.8" r="1.45"/>
<circle cx="538.5" cy="74.6" r="1.45"/>
<circle cx="541.1" cy="74.6" r="1.45"/>
<circle cx="527.3" cy="76.0" r="1.45"/>
<circle cx="547.4" cy="76.3" r="1.45"/>
<circle cx="559.7" cy="76.3" r="1.45"/>
<circle cx="532.0" cy="78.4" r="1.45"/>
<circle cx="521.5" cy="79.1" r="1.45"/>
<circle cx="540.4" cy="78.4" r="1.45"/>
<circle cx="547.4" cy="79.1" r="1.45"/>
<circle cx="549.5" cy="78.7" r="1.45"/>
<circle cx="513.0" cy="80.5" r="1.45"/>
<circle cx="518.6" cy="81.2" r="1.45"/>
<circle cx="522.1" cy="80.9" r="1.45"/>
<circle cx="525.6" cy="80.1" r="1.45"/>
<circle cx="527.0" cy="81.9" r="1.45"/>
<circle cx="529.2" cy="82.6" r="1.45"/>
<circle cx="531.3" cy="83.3" r="1.45"/>
<circle cx="540.4" cy="80.5" r="1.45"/>
<circle cx="541.8" cy="81.9" r="1.45"/>
<circle cx="537.6" cy="82.3" r="1.45"/>
<circle cx="559.0" cy="80.5" r="1.45"/>
<circle cx="564.5" cy="80.5" r="1.45"/>
<circle cx="510.9" cy="83.3" r="1.45"/>
<circle cx="514.7" cy="83.3" r="1.45"/>
<circle cx="524.2" cy="84.0" r="1.45"/>
<circle cx="526.4" cy="84.7" r="1.45"/>
<circle cx="528.5" cy="85.4" r="1.45"/>
<circle cx="530.6" cy="84.7" r="1.45"/>
<circle cx="541.4" cy="84.0" r="1.45"/>
<circle cx="560.0" cy="82.9" r="1.45"/>
<circle cx="559.0" cy="85.1" r="1.45"/>
<circle cx="486.4" cy="87.5" r="1.45"/>
<circle cx="487.5" cy="86.1" r="1.45"/>
<circle cx="488.5" cy="85.4" r="1.45"/>
<circle cx="489.2" cy="87.5" r="1.45"/>
<circle cx="488.1" cy="88.5" r="1.45"/>
<circle cx="490.6" cy="86.5" r="1.45"/>
<circle cx="492.0" cy="87.5" r="1.45"/>
<circle cx="493.4" cy="86.1" r="1.45"/>
<circle cx="494.8" cy="87.1" r="1.45"/>
<circle cx="496.9" cy="86.8" r="1.45"/>
<circle cx="499.0" cy="86.5" r="1.45"/>
<circle cx="502.9" cy="87.1" r="1.45"/>
<circle cx="510.2" cy="87.5" r="1.45"/>
<circle cx="512.3" cy="86.8" r="1.45"/>
<circle cx="514.4" cy="87.5" r="1.45"/>
<circle cx="513.0" cy="88.9" r="1.45"/>
<circle cx="515.1" cy="89.6" r="1.45"/>
<circle cx="510.9" cy="91.0" r="1.45"/>
<circle cx="513.0" cy="95.2" r="1.45"/>
<circle cx="518.6" cy="90.3" r="1.45"/>
<circle cx="522.9" cy="86.8" r="1.45"/>
<circle cx="525.0" cy="87.5" r="1.45"/>
<circle cx="527.0" cy="86.8" r="1.45"/>
<circle cx="529.2" cy="87.5" r="1.45"/>
<circle cx="531.3" cy="86.8" r="1.45"/>
<circle cx="523.5" cy="89.6" r="1.45"/>
<circle cx="525.6" cy="88.9" r="1.45"/>
<circle cx="527.8" cy="89.6" r="1.45"/>
<circle cx="529.9" cy="88.9" r="1.45"/>
<circle cx="532.0" cy="89.6" r="1.45"/>
<circle cx="523.5" cy="91.7" r="1.45"/>
<circle cx="526.4" cy="91.0" r="1.45"/>
<circle cx="528.5" cy="91.7" r="1.45"/>
<circle cx="532.0" cy="91.7" r="1.45"/>
<circle cx="526.4" cy="93.8" r="1.45"/>
<circle cx="528.5" cy="95.2" r="1.45"/>
<circle cx="532.0" cy="93.8" r="1.45"/>
<circle cx="525.6" cy="98.7" r="1.45"/>
<circle cx="537.6" cy="86.8" r="1.45"/>
<circle cx="539.7" cy="87.5" r="1.45"/>
<circle cx="541.8" cy="86.8" r="1.45"/>
<circle cx="538.3" cy="88.9" r="1.45"/>
<circle cx="540.4" cy="89.6" r="1.45"/>
<circle cx="541.8" cy="91.0" r="1.45"/>
<circle cx="536.2" cy="92.4" r="1.45"/>
<circle cx="538.3" cy="93.1" r="1.45"/>
<circle cx="541.8" cy="93.1" r="1.45"/>
<circle cx="541.8" cy="95.2" r="1.45"/>
<circle cx="538.5" cy="98.0" r="1.45"/>
<circle cx="540.4" cy="100.8" r="1.45"/>
<circle cx="546.0" cy="86.8" r="1.45"/>
<circle cx="548.8" cy="87.5" r="1.45"/>
<circle cx="546.0" cy="89.6" r="1.45"/>
<circle cx="549.5" cy="93.5" r="1.45"/>
<circle cx="546.3" cy="97.8" r="1.45"/>
<circle cx="547.4" cy="99.4" r="1.45"/>
<circle cx="547.4" cy="103.9" r="1.45"/>
<circle cx="558.6" cy="87.5" r="1.45"/>
<circle cx="558.6" cy="90.3" r="1.45"/>
<circle cx="558.9" cy="95.0" r="1.45"/>
<circle cx="560.0" cy="98.7" r="1.45"/>
<circle cx="564.5" cy="98.0" r="1.45"/>
<circle cx="532.7" cy="103.6" r="1.45"/>
<circle cx="535.7" cy="104.3" r="1.45"/>
<circle cx="541.8" cy="105.7" r="1.45"/>
<circle cx="549.5" cy="114.5" r="1.45"/>
<circle cx="564.5" cy="120.1" r="1.45"/>
<circle cx="485.6" cy="86.8" r="1.45"/>
<circle cx="486.4" cy="86.2" r="1.45"/>
<circle cx="487.0" cy="87.6" r="1.45"/>
<circle cx="487.9" cy="85.6" r="1.45"/>
<circle cx="488.2" cy="87.0" r="1.45"/>
<circle cx="488.8" cy="88.2" r="1.45"/>
<circle cx="489.3" cy="86.2" r="1.45"/>
<circle cx="489.9" cy="87.3" r="1.45"/>
<circle cx="489.1" cy="84.7" r="1.45"/>
<circle cx="487.3" cy="88.8" r="1.45"/>
<circle cx="490.8" cy="86.8" r="1.45"/>
<circle cx="491.7" cy="86.2" r="1.45"/>
<circle cx="492.6" cy="87.0" r="1.45"/>
<circle cx="493.4" cy="85.6" r="1.45"/>
<circle cx="494.0" cy="86.8" r="1.45"/>
<circle cx="493.7" cy="87.9" r="1.45"/>
<circle cx="495.2" cy="86.5" r="1.45"/>
<circle cx="496.1" cy="87.0" r="1.45"/>
<circle cx="496.9" cy="86.2" r="1.45"/>
<circle cx="497.8" cy="86.8" r="1.45"/>
<circle cx="498.7" cy="85.9" r="1.45"/>
<circle cx="499.3" cy="87.0" r="1.45"/>
<circle cx="500.4" cy="86.8" r="1.45"/>
<circle cx="503.1" cy="86.8" r="1.45"/>
<circle cx="502.8" cy="87.3" r="1.45"/>
</g>
<line x1="481.6" x2="568.4" y1="87.50" y2="87.50" stroke="#0a0a0a" stroke-width="0.6" stroke-dasharray="2.1,0.95"/>
<rect x="481.6" y="33.3" width="86.8" height="110.10000000000001" fill="none" stroke="#c8c8c8" stroke-width="0.6"/>
<rect x="535.6" y="35.699999999999996" width="32.8" height="18.2" rx="0.4" fill="#fff" fill-opacity="0.9" stroke="#8f8f8f" stroke-width="0.65"/>
<text x="565.6" y="43.1" font-size="6.3" text-anchor="end" fill="#222">LM=67.88</text>
<text x="565.6" y="49.9" font-size="6.3" text-anchor="end" fill="#222">p=0.000</text>
<text x="525.0" y="30.2" font-size="6.25" text-anchor="middle" fill="#262626">XGBoost</text>
<text x="525.0" y="161.0" font-size="5.8" text-anchor="middle" fill="#262626">Predicted CBR</text>
</g>
<g>
<clipPath id="c5"><rect x="594.1" y="33.3" width="86.8" height="110.10000000000001"/></clipPath>
<line x1="597.80" x2="597.80" y1="33.3" y2="143.4" stroke="#cccccc" stroke-width="0.7"/>
<text x="597.80" y="153.0" font-size="6.4" text-anchor="middle" fill="#262626">0</text>
<line x1="621.30" x2="621.30" y1="33.3" y2="143.4" stroke="#cccccc" stroke-width="0.7"/>
<text x="621.30" y="153.0" font-size="6.4" text-anchor="middle" fill="#262626">20</text>
<line x1="644.80" x2="644.80" y1="33.3" y2="143.4" stroke="#cccccc" stroke-width="0.7"/>
<text x="644.80" y="153.0" font-size="6.4" text-anchor="middle" fill="#262626">40</text>
<line x1="668.30" x2="668.30" y1="33.3" y2="143.4" stroke="#cccccc" stroke-width="0.7"/>
<text x="668.30" y="153.0" font-size="6.4" text-anchor="middle" fill="#262626">60</text>
<line x1="594.1" x2="680.9" y1="47.70" y2="47.70" stroke="#cccccc" stroke-width="0.7"/>
<text x="588.7" y="49.90" font-size="6.4" text-anchor="end" fill="#262626">20</text>
<line x1="594.1" x2="680.9" y1="67.45" y2="67.45" stroke="#cccccc" stroke-width="0.7"/>
<text x="588.7" y="69.65" font-size="6.4" text-anchor="end" fill="#262626">10</text>
<line x1="594.1" x2="680.9" y1="87.20" y2="87.20" stroke="#cccccc" stroke-width="0.7"/>
<text x="588.7" y="89.40" font-size="6.4" text-anchor="end" fill="#262626">0</text>
<line x1="594.1" x2="680.9" y1="106.95" y2="106.95" stroke="#cccccc" stroke-width="0.7"/>
<text x="588.7" y="109.15" font-size="6.4" text-anchor="end" fill="#262626">−10</text>
<line x1="594.1" x2="680.9" y1="126.70" y2="126.70" stroke="#cccccc" stroke-width="0.7"/>
<text x="588.7" y="128.90" font-size="6.4" text-anchor="end" fill="#262626">−20</text>
<g clip-path="url(#c5)" fill="#f58812" stroke="#38230f" stroke-width="0.55">
<circle cx="635.2" cy="66.0" r="1.45"/>
<circle cx="652.8" cy="65.7" r="1.45"/>
<circle cx="619.5" cy="69.9" r="1.45"/>
<circle cx="635.2" cy="73.7" r="1.45"/>
<circle cx="632.7" cy="74.6" r="1.45"/>
<circle cx="657.7" cy="74.9" r="1.45"/>
<circle cx="654.9" cy="75.8" r="1.45"/>
<circle cx="667.5" cy="75.1" r="1.45"/>
<circle cx="619.5" cy="76.5" r="1.45"/>
<circle cx="654.2" cy="78.1" r="1.45"/>
<circle cx="635.2" cy="80.5" r="1.45"/>
<circle cx="638.8" cy="80.9" r="1.45"/>
<circle cx="665.4" cy="80.9" r="1.45"/>
<circle cx="668.2" cy="81.5" r="1.45"/>
<circle cx="598.5" cy="83.3" r="1.45"/>
<circle cx="600.2" cy="81.9" r="1.45"/>
<circle cx="601.6" cy="83.3" r="1.45"/>
<circle cx="599.5" cy="85.4" r="1.45"/>
<circle cx="601.3" cy="86.1" r="1.45"/>
<circle cx="603.0" cy="84.7" r="1.45"/>
<circle cx="598.8" cy="86.8" r="1.45"/>
<circle cx="602.3" cy="87.5" r="1.45"/>
<circle cx="603.7" cy="88.9" r="1.45"/>
<circle cx="600.9" cy="89.6" r="1.45"/>
<circle cx="603.0" cy="91.0" r="1.45"/>
<circle cx="605.8" cy="83.3" r="1.45"/>
<circle cx="606.5" cy="86.1" r="1.45"/>
<circle cx="607.9" cy="87.5" r="1.45"/>
<circle cx="608.6" cy="84.0" r="1.45"/>
<circle cx="610.7" cy="84.7" r="1.45"/>
<circle cx="612.1" cy="86.1" r="1.45"/>
<circle cx="614.0" cy="84.0" r="1.45"/>
<circle cx="609.3" cy="89.6" r="1.45"/>
<circle cx="610.7" cy="91.7" r="1.45"/>
<circle cx="612.8" cy="88.2" r="1.45"/>
<circle cx="614.2" cy="91.0" r="1.45"/>
<circle cx="603.7" cy="93.1" r="1.45"/>
<circle cx="610.0" cy="93.1" r="1.45"/>
<circle cx="631.8" cy="83.3" r="1.45"/>
<circle cx="637.4" cy="82.6" r="1.45"/>
<circle cx="638.0" cy="84.7" r="1.45"/>
<circle cx="647.9" cy="82.6" r="1.45"/>
<circle cx="652.8" cy="82.9" r="1.45"/>
<circle cx="647.2" cy="84.7" r="1.45"/>
<circle cx="652.8" cy="85.4" r="1.45"/>
<circle cx="665.4" cy="83.3" r="1.45"/>
<circle cx="624.3" cy="85.4" r="1.45"/>
<circle cx="624.7" cy="87.5" r="1.45"/>
<circle cx="624.0" cy="90.3" r="1.45"/>
<circle cx="624.7" cy="93.1" r="1.45"/>
<circle cx="628.9" cy="88.9" r="1.45"/>
<circle cx="629.6" cy="91.7" r="1.45"/>
<circle cx="628.9" cy="93.8" r="1.45"/>
<circle cx="631.0" cy="86.8" r="1.45"/>
<circle cx="633.1" cy="87.5" r="1.45"/>
<circle cx="632.5" cy="91.0" r="1.45"/>
<circle cx="635.2" cy="87.5" r="1.45"/>
<circle cx="637.4" cy="86.8" r="1.45"/>
<circle cx="638.8" cy="88.2" r="1.45"/>
<circle cx="636.6" cy="90.3" r="1.45"/>
<circle cx="638.8" cy="91.0" r="1.45"/>
<circle cx="637.4" cy="95.2" r="1.45"/>
<circle cx="632.7" cy="98.0" r="1.45"/>
<circle cx="637.4" cy="96.6" r="1.45"/>
<circle cx="644.4" cy="87.5" r="1.45"/>
<circle cx="646.5" cy="86.8" r="1.45"/>
<circle cx="647.9" cy="88.2" r="1.45"/>
<circle cx="645.8" cy="90.3" r="1.45"/>
<circle cx="647.9" cy="91.0" r="1.45"/>
<circle cx="644.4" cy="92.4" r="1.45"/>
<circle cx="646.5" cy="93.8" r="1.45"/>
<circle cx="647.9" cy="95.2" r="1.45"/>
<circle cx="645.1" cy="96.6" r="1.45"/>
<circle cx="647.2" cy="97.3" r="1.45"/>
<circle cx="642.3" cy="98.0" r="1.45"/>
<circle cx="645.8" cy="99.4" r="1.45"/>
<circle cx="648.6" cy="98.7" r="1.45"/>
<circle cx="646.5" cy="101.5" r="1.45"/>
<circle cx="649.3" cy="102.2" r="1.45"/>
<circle cx="652.8" cy="88.2" r="1.45"/>
<circle cx="653.5" cy="91.0" r="1.45"/>
<circle cx="652.8" cy="93.8" r="1.45"/>
<circle cx="653.5" cy="95.9" r="1.45"/>
<circle cx="654.9" cy="97.3" r="1.45"/>
<circle cx="657.7" cy="89.6" r="1.45"/>
<circle cx="658.4" cy="92.1" r="1.45"/>
<circle cx="657.0" cy="100.1" r="1.45"/>
<circle cx="656.3" cy="102.2" r="1.45"/>
<circle cx="654.2" cy="104.3" r="1.45"/>
<circle cx="653.5" cy="106.4" r="1.45"/>
<circle cx="665.4" cy="87.5" r="1.45"/>
<circle cx="665.4" cy="90.3" r="1.45"/>
<circle cx="676.6" cy="87.9" r="1.45"/>
<circle cx="667.5" cy="95.9" r="1.45"/>
<circle cx="671.0" cy="95.2" r="1.45"/>
<circle cx="665.4" cy="98.0" r="1.45"/>
<circle cx="665.1" cy="104.3" r="1.45"/>
<circle cx="665.1" cy="106.7" r="1.45"/>
<circle cx="640.9" cy="106.7" r="1.45"/>
<circle cx="646.7" cy="107.8" r="1.45"/>
<circle cx="654.5" cy="118.3" r="1.45"/>
<circle cx="640.9" cy="120.8" r="1.45"/>
<circle cx="598.1" cy="83.7" r="1.45"/>
<circle cx="599.4" cy="85.7" r="1.45"/>
<circle cx="600.7" cy="87.2" r="1.45"/>
<circle cx="602.0" cy="84.4" r="1.45"/>
<circle cx="600.1" cy="88.9" r="1.45"/>
<circle cx="602.6" cy="89.5" r="1.45"/>
<circle cx="603.9" cy="91.4" r="1.45"/>
<circle cx="606.5" cy="85.7" r="1.45"/>
<circle cx="608.1" cy="88.2" r="1.45"/>
<circle cx="609.7" cy="90.8" r="1.45"/>
<circle cx="611.6" cy="83.7" r="1.45"/>
<circle cx="613.6" cy="90.5" r="1.45"/>
</g>
<line x1="594.1" x2="680.9" y1="87.50" y2="87.50" stroke="#0a0a0a" stroke-width="0.6" stroke-dasharray="2.1,0.95"/>
<rect x="594.1" y="33.3" width="86.8" height="110.10000000000001" fill="none" stroke="#c8c8c8" stroke-width="0.6"/>
<rect x="648.1" y="35.699999999999996" width="32.8" height="18.2" rx="0.4" fill="#fff" fill-opacity="0.9" stroke="#8f8f8f" stroke-width="0.65"/>
<text x="678.1" y="43.1" font-size="6.3" text-anchor="end" fill="#222">LM=59.45</text>
<text x="678.1" y="49.9" font-size="6.3" text-anchor="end" fill="#222">p=0.000</text>
<text x="637.5" y="30.2" font-size="6.25" text-anchor="middle" fill="#262626">LSTM</text>
<text x="637.5" y="161.0" font-size="5.8" text-anchor="middle" fill="#262626">Predicted CBR</text>
</g>
<g>
<clipPath id="c6"><rect x="31.6" y="181.4" width="86.8" height="109.70000000000002"/></clipPath>
<line x1="36.40" x2="36.40" y1="181.4" y2="291.1" stroke="#cccccc" stroke-width="0.7"/>
<text x="36.40" y="300.7" font-size="6.4" text-anchor="middle" fill="#262626">0</text>
<line x1="62.36" x2="62.36" y1="181.4" y2="291.1" stroke="#cccccc" stroke-width="0.7"/>
<text x="62.36" y="300.7" font-size="6.4" text-anchor="middle" fill="#262626">20</text>
<line x1="88.32" x2="88.32" y1="181.4" y2="291.1" stroke="#cccccc" stroke-width="0.7"/>
<text x="88.32" y="300.7" font-size="6.4" text-anchor="middle" fill="#262626">40</text>
<line x1="114.28" x2="114.28" y1="181.4" y2="291.1" stroke="#cccccc" stroke-width="0.7"/>
<text x="114.28" y="300.7" font-size="6.4" text-anchor="middle" fill="#262626">60</text>
<line x1="31.6" x2="118.4" y1="195.70" y2="195.70" stroke="#cccccc" stroke-width="0.7"/>
<text x="26.2" y="197.90" font-size="6.4" text-anchor="end" fill="#262626">20</text>
<line x1="31.6" x2="118.4" y1="215.45" y2="215.45" stroke="#cccccc" stroke-width="0.7"/>
<text x="26.2" y="217.65" font-size="6.4" text-anchor="end" fill="#262626">10</text>
<line x1="31.6" x2="118.4" y1="235.20" y2="235.20" stroke="#cccccc" stroke-width="0.7"/>
<text x="26.2" y="237.40" font-size="6.4" text-anchor="end" fill="#262626">0</text>
<line x1="31.6" x2="118.4" y1="254.95" y2="254.95" stroke="#cccccc" stroke-width="0.7"/>
<text x="26.2" y="257.15" font-size="6.4" text-anchor="end" fill="#262626">−10</text>
<line x1="31.6" x2="118.4" y1="274.70" y2="274.70" stroke="#cccccc" stroke-width="0.7"/>
<text x="26.2" y="276.90" font-size="6.4" text-anchor="end" fill="#262626">−20</text>
<g clip-path="url(#c6)" fill="#f58812" stroke="#38230f" stroke-width="0.55">
<circle cx="66.5" cy="214.0" r="1.45"/>
<circle cx="66.5" cy="215.6" r="1.45"/>
<circle cx="78.2" cy="214.9" r="1.45"/>
<circle cx="92.0" cy="214.2" r="1.45"/>
<circle cx="78.2" cy="222.6" r="1.45"/>
<circle cx="76.1" cy="224.1" r="1.45"/>
<circle cx="112.5" cy="222.4" r="1.45"/>
<circle cx="114.2" cy="222.6" r="1.45"/>
<circle cx="45.5" cy="224.5" r="1.45"/>
<circle cx="35.7" cy="227.4" r="1.45"/>
<circle cx="43.7" cy="227.8" r="1.45"/>
<circle cx="45.5" cy="226.1" r="1.45"/>
<circle cx="78.5" cy="229.5" r="1.45"/>
<circle cx="75.0" cy="231.3" r="1.45"/>
<circle cx="83.4" cy="230.6" r="1.45"/>
<circle cx="95.3" cy="227.5" r="1.45"/>
<circle cx="95.3" cy="229.9" r="1.45"/>
<circle cx="105.1" cy="227.5" r="1.45"/>
<circle cx="104.4" cy="229.5" r="1.45"/>
<circle cx="104.4" cy="232.0" r="1.45"/>
<circle cx="111.7" cy="226.7" r="1.45"/>
<circle cx="112.1" cy="228.9" r="1.45"/>
<circle cx="110.7" cy="231.3" r="1.45"/>
<circle cx="42.0" cy="235.5" r="1.45"/>
<circle cx="43.4" cy="236.2" r="1.45"/>
<circle cx="44.8" cy="235.1" r="1.45"/>
<circle cx="46.2" cy="235.9" r="1.45"/>
<circle cx="42.7" cy="237.6" r="1.45"/>
<circle cx="44.1" cy="238.7" r="1.45"/>
<circle cx="45.5" cy="237.6" r="1.45"/>
<circle cx="46.9" cy="239.0" r="1.45"/>
<circle cx="49.0" cy="234.8" r="1.45"/>
<circle cx="50.4" cy="236.9" r="1.45"/>
<circle cx="48.3" cy="237.6" r="1.45"/>
<circle cx="43.4" cy="240.1" r="1.45"/>
<circle cx="44.8" cy="241.1" r="1.45"/>
<circle cx="46.2" cy="242.1" r="1.45"/>
<circle cx="47.6" cy="241.1" r="1.45"/>
<circle cx="49.0" cy="242.5" r="1.45"/>
<circle cx="50.4" cy="241.1" r="1.45"/>
<circle cx="51.1" cy="239.0" r="1.45"/>
<circle cx="54.6" cy="239.3" r="1.45"/>
<circle cx="45.5" cy="243.9" r="1.45"/>
<circle cx="46.9" cy="244.9" r="1.45"/>
<circle cx="48.3" cy="246.0" r="1.45"/>
<circle cx="49.7" cy="245.3" r="1.45"/>
<circle cx="49.0" cy="247.4" r="1.45"/>
<circle cx="50.4" cy="248.8" r="1.45"/>
<circle cx="51.8" cy="249.5" r="1.45"/>
<circle cx="53.2" cy="251.6" r="1.45"/>
<circle cx="54.6" cy="253.0" r="1.45"/>
<circle cx="56.0" cy="255.1" r="1.45"/>
<circle cx="51.1" cy="243.2" r="1.45"/>
<circle cx="59.1" cy="246.7" r="1.45"/>
<circle cx="61.6" cy="248.6" r="1.45"/>
<circle cx="63.0" cy="250.5" r="1.45"/>
<circle cx="67.0" cy="251.6" r="1.45"/>
<circle cx="71.5" cy="234.5" r="1.45"/>
<circle cx="68.6" cy="236.9" r="1.45"/>
<circle cx="70.8" cy="238.3" r="1.45"/>
<circle cx="75.7" cy="236.2" r="1.45"/>
<circle cx="79.2" cy="236.9" r="1.45"/>
<circle cx="83.4" cy="235.1" r="1.45"/>
<circle cx="67.9" cy="239.7" r="1.45"/>
<circle cx="70.0" cy="241.1" r="1.45"/>
<circle cx="75.7" cy="239.0" r="1.45"/>
<circle cx="79.2" cy="240.4" r="1.45"/>
<circle cx="83.8" cy="239.3" r="1.45"/>
<circle cx="68.6" cy="243.9" r="1.45"/>
<circle cx="75.7" cy="242.1" r="1.45"/>
<circle cx="79.6" cy="244.6" r="1.45"/>
<circle cx="79.6" cy="249.5" r="1.45"/>
<circle cx="91.1" cy="234.8" r="1.45"/>
<circle cx="93.2" cy="234.1" r="1.45"/>
<circle cx="95.3" cy="235.1" r="1.45"/>
<circle cx="92.5" cy="237.6" r="1.45"/>
<circle cx="93.9" cy="239.0" r="1.45"/>
<circle cx="90.4" cy="241.1" r="1.45"/>
<circle cx="92.5" cy="241.8" r="1.45"/>
<circle cx="89.7" cy="243.2" r="1.45"/>
<circle cx="91.8" cy="244.6" r="1.45"/>
<circle cx="90.4" cy="246.0" r="1.45"/>
<circle cx="92.5" cy="246.7" r="1.45"/>
<circle cx="94.6" cy="246.0" r="1.45"/>
<circle cx="89.7" cy="248.1" r="1.45"/>
<circle cx="91.8" cy="248.8" r="1.45"/>
<circle cx="93.9" cy="250.2" r="1.45"/>
<circle cx="96.0" cy="251.4" r="1.45"/>
<circle cx="90.4" cy="250.5" r="1.45"/>
<circle cx="92.5" cy="252.3" r="1.45"/>
<circle cx="96.0" cy="254.7" r="1.45"/>
<circle cx="91.8" cy="254.4" r="1.45"/>
<circle cx="89.7" cy="257.9" r="1.45"/>
<circle cx="85.7" cy="257.9" r="1.45"/>
<circle cx="93.9" cy="258.6" r="1.45"/>
<circle cx="103.0" cy="239.3" r="1.45"/>
<circle cx="110.7" cy="234.8" r="1.45"/>
<circle cx="110.7" cy="236.9" r="1.45"/>
<circle cx="112.1" cy="239.0" r="1.45"/>
<circle cx="114.2" cy="240.1" r="1.45"/>
<circle cx="112.1" cy="241.8" r="1.45"/>
<circle cx="110.7" cy="246.0" r="1.45"/>
<circle cx="112.8" cy="244.6" r="1.45"/>
<circle cx="105.1" cy="247.4" r="1.45"/>
<circle cx="100.9" cy="250.9" r="1.45"/>
<circle cx="103.7" cy="251.6" r="1.45"/>
<circle cx="103.0" cy="254.2" r="1.45"/>
<circle cx="104.4" cy="256.5" r="1.45"/>
<circle cx="110.7" cy="249.5" r="1.45"/>
<circle cx="110.7" cy="252.3" r="1.45"/>
<circle cx="111.4" cy="254.4" r="1.45"/>
<circle cx="69.8" cy="261.8" r="1.45"/>
<circle cx="96.3" cy="260.1" r="1.45"/>
<circle cx="92.8" cy="259.7" r="1.45"/>
<circle cx="84.8" cy="263.5" r="1.45"/>
<circle cx="88.0" cy="266.0" r="1.45"/>
<circle cx="103.0" cy="262.9" r="1.45"/>
<circle cx="111.1" cy="262.5" r="1.45"/>
<circle cx="114.2" cy="261.8" r="1.45"/>
<circle cx="105.5" cy="268.8" r="1.45"/>
<circle cx="85.9" cy="272.3" r="1.45"/>
<circle cx="99.2" cy="273.0" r="1.45"/>
<circle cx="110.4" cy="273.3" r="1.45"/>
<circle cx="42.5" cy="235.8" r="1.45"/>
<circle cx="43.4" cy="237.1" r="1.45"/>
<circle cx="44.4" cy="238.4" r="1.45"/>
<circle cx="45.3" cy="239.7" r="1.45"/>
<circle cx="43.1" cy="239.0" r="1.45"/>
<circle cx="44.0" cy="240.6" r="1.45"/>
<circle cx="45.0" cy="241.9" r="1.45"/>
<circle cx="46.0" cy="243.2" r="1.45"/>
<circle cx="47.0" cy="244.5" r="1.45"/>
<circle cx="47.9" cy="245.8" r="1.45"/>
<circle cx="46.6" cy="240.9" r="1.45"/>
<circle cx="48.2" cy="242.9" r="1.45"/>
<circle cx="49.2" cy="244.5" r="1.45"/>
<circle cx="50.2" cy="246.1" r="1.45"/>
<circle cx="47.3" cy="237.7" r="1.45"/>
<circle cx="48.9" cy="239.7" r="1.45"/>
<circle cx="45.7" cy="236.4" r="1.45"/>
<circle cx="44.7" cy="243.8" r="1.45"/>
<circle cx="45.7" cy="245.4" r="1.45"/>
<circle cx="50.8" cy="248.0" r="1.45"/>
<circle cx="52.1" cy="249.0" r="1.45"/>
<circle cx="92.2" cy="255.5" r="1.45"/>
<circle cx="93.2" cy="257.6" r="1.45"/>
<circle cx="91.8" cy="259.0" r="1.45"/>
</g>
<line x1="31.6" x2="118.4" y1="235.50" y2="235.50" stroke="#0a0a0a" stroke-width="0.85" stroke-dasharray="2.1,0.95"/>
<rect x="31.6" y="181.4" width="86.8" height="109.70000000000002" fill="none" stroke="#c8c8c8" stroke-width="0.6"/>
<rect x="85.6" y="184.5" width="32.8" height="17.4" rx="0.4" fill="#fff" fill-opacity="0.9" stroke="#8f8f8f" stroke-width="0.65"/>
<text x="115.6" y="191.2" font-size="6.3" text-anchor="end" fill="#222">LM=63.01</text>
<text x="115.6" y="198.0" font-size="6.3" text-anchor="end" fill="#222">p=0.000</text>
<text x="75.0" y="178.3" font-size="6.25" text-anchor="middle" fill="#262626">ANN</text>
<text x="75.0" y="308.7" font-size="5.8" text-anchor="middle" fill="#262626">Predicted CBR</text>
<text transform="translate(5.6,236.2) rotate(-90)" font-size="6" text-anchor="middle" fill="#262626">A2</text>
<text transform="translate(12.9,236.2) rotate(-90)" font-size="6" text-anchor="middle" fill="#262626">Residuals</text>
</g>
<g>
<clipPath id="c7"><rect x="144.1" y="181.4" width="86.8" height="109.70000000000002"/></clipPath>
<line x1="150.50" x2="150.50" y1="181.4" y2="291.1" stroke="#cccccc" stroke-width="0.7"/>
<text x="150.50" y="300.7" font-size="6.4" text-anchor="middle" fill="#262626">0</text>
<line x1="174.36" x2="174.36" y1="181.4" y2="291.1" stroke="#cccccc" stroke-width="0.7"/>
<text x="174.36" y="300.7" font-size="6.4" text-anchor="middle" fill="#262626">20</text>
<line x1="198.22" x2="198.22" y1="181.4" y2="291.1" stroke="#cccccc" stroke-width="0.7"/>
<text x="198.22" y="300.7" font-size="6.4" text-anchor="middle" fill="#262626">40</text>
<line x1="222.08" x2="222.08" y1="181.4" y2="291.1" stroke="#cccccc" stroke-width="0.7"/>
<text x="222.08" y="300.7" font-size="6.4" text-anchor="middle" fill="#262626">60</text>
<line x1="144.1" x2="230.89999999999998" y1="195.70" y2="195.70" stroke="#cccccc" stroke-width="0.7"/>
<text x="138.7" y="197.90" font-size="6.4" text-anchor="end" fill="#262626">20</text>
<line x1="144.1" x2="230.89999999999998" y1="215.45" y2="215.45" stroke="#cccccc" stroke-width="0.7"/>
<text x="138.7" y="217.65" font-size="6.4" text-anchor="end" fill="#262626">10</text>
<line x1="144.1" x2="230.89999999999998" y1="235.20" y2="235.20" stroke="#cccccc" stroke-width="0.7"/>
<text x="138.7" y="237.40" font-size="6.4" text-anchor="end" fill="#262626">0</text>
<line x1="144.1" x2="230.89999999999998" y1="254.95" y2="254.95" stroke="#cccccc" stroke-width="0.7"/>
<text x="138.7" y="257.15" font-size="6.4" text-anchor="end" fill="#262626">−10</text>
<line x1="144.1" x2="230.89999999999998" y1="274.70" y2="274.70" stroke="#cccccc" stroke-width="0.7"/>
<text x="138.7" y="276.90" font-size="6.4" text-anchor="end" fill="#262626">−20</text>
<g clip-path="url(#c7)" fill="#f58812" stroke="#38230f" stroke-width="0.55">
<circle cx="190.9" cy="188.0" r="1.45"/>
<circle cx="172.2" cy="208.3" r="1.45"/>
<circle cx="190.9" cy="208.1" r="1.45"/>
<circle cx="198.6" cy="207.9" r="1.45"/>
<circle cx="197.9" cy="210.0" r="1.45"/>
<circle cx="203.8" cy="210.7" r="1.45"/>
<circle cx="216.0" cy="211.7" r="1.45"/>
<circle cx="204.2" cy="214.5" r="1.45"/>
<circle cx="204.2" cy="216.3" r="1.45"/>
<circle cx="190.7" cy="216.8" r="1.45"/>
<circle cx="191.2" cy="224.1" r="1.45"/>
<circle cx="203.1" cy="223.8" r="1.45"/>
<circle cx="211.5" cy="224.8" r="1.45"/>
<circle cx="148.1" cy="225.7" r="1.45"/>
<circle cx="191.2" cy="227.1" r="1.45"/>
<circle cx="202.4" cy="226.7" r="1.45"/>
<circle cx="203.8" cy="227.8" r="1.45"/>
<circle cx="216.0" cy="228.9" r="1.45"/>
<circle cx="149.1" cy="227.8" r="1.45"/>
<circle cx="150.5" cy="229.2" r="1.45"/>
<circle cx="151.9" cy="230.9" r="1.45"/>
<circle cx="153.3" cy="232.0" r="1.45"/>
<circle cx="154.7" cy="231.3" r="1.45"/>
<circle cx="151.2" cy="232.0" r="1.45"/>
<circle cx="152.6" cy="233.7" r="1.45"/>
<circle cx="154.0" cy="234.8" r="1.45"/>
<circle cx="155.4" cy="233.4" r="1.45"/>
<circle cx="157.5" cy="229.9" r="1.45"/>
<circle cx="158.2" cy="232.0" r="1.45"/>
<circle cx="156.8" cy="235.5" r="1.45"/>
<circle cx="155.4" cy="236.9" r="1.45"/>
<circle cx="157.5" cy="237.6" r="1.45"/>
<circle cx="158.9" cy="236.2" r="1.45"/>
<circle cx="161.7" cy="229.5" r="1.45"/>
<circle cx="163.1" cy="232.0" r="1.45"/>
<circle cx="162.4" cy="234.5" r="1.45"/>
<circle cx="161.0" cy="236.2" r="1.45"/>
<circle cx="164.5" cy="234.8" r="1.45"/>
<circle cx="168.0" cy="233.1" r="1.45"/>
<circle cx="158.2" cy="239.7" r="1.45"/>
<circle cx="160.3" cy="239.0" r="1.45"/>
<circle cx="159.6" cy="241.1" r="1.45"/>
<circle cx="161.0" cy="242.5" r="1.45"/>
<circle cx="163.1" cy="240.4" r="1.45"/>
<circle cx="166.6" cy="239.0" r="1.45"/>
<circle cx="164.5" cy="242.5" r="1.45"/>
<circle cx="167.3" cy="241.8" r="1.45"/>
<circle cx="161.7" cy="245.3" r="1.45"/>
<circle cx="163.1" cy="246.7" r="1.45"/>
<circle cx="165.2" cy="247.4" r="1.45"/>
<circle cx="167.3" cy="248.1" r="1.45"/>
<circle cx="166.6" cy="251.6" r="1.45"/>
<circle cx="168.0" cy="254.2" r="1.45"/>
<circle cx="180.9" cy="231.3" r="1.45"/>
<circle cx="182.8" cy="230.9" r="1.45"/>
<circle cx="181.3" cy="239.0" r="1.45"/>
<circle cx="182.8" cy="241.1" r="1.45"/>
<circle cx="183.4" cy="243.2" r="1.45"/>
<circle cx="189.8" cy="229.2" r="1.45"/>
<circle cx="191.9" cy="230.6" r="1.45"/>
<circle cx="193.3" cy="228.9" r="1.45"/>
<circle cx="189.1" cy="232.0" r="1.45"/>
<circle cx="191.2" cy="232.7" r="1.45"/>
<circle cx="193.3" cy="232.0" r="1.45"/>
<circle cx="195.4" cy="233.1" r="1.45"/>
<circle cx="189.8" cy="234.8" r="1.45"/>
<circle cx="191.9" cy="235.5" r="1.45"/>
<circle cx="194.0" cy="234.8" r="1.45"/>
<circle cx="196.1" cy="235.5" r="1.45"/>
<circle cx="187.7" cy="235.5" r="1.45"/>
<circle cx="191.2" cy="237.6" r="1.45"/>
<circle cx="193.3" cy="239.0" r="1.45"/>
<circle cx="189.8" cy="242.5" r="1.45"/>
<circle cx="187.7" cy="243.9" r="1.45"/>
<circle cx="193.3" cy="241.8" r="1.45"/>
<circle cx="194.0" cy="244.6" r="1.45"/>
<circle cx="198.2" cy="230.6" r="1.45"/>
<circle cx="200.3" cy="228.9" r="1.45"/>
<circle cx="201.7" cy="232.0" r="1.45"/>
<circle cx="198.2" cy="233.4" r="1.45"/>
<circle cx="200.3" cy="234.8" r="1.45"/>
<circle cx="202.4" cy="235.5" r="1.45"/>
<circle cx="196.8" cy="239.0" r="1.45"/>
<circle cx="200.3" cy="238.7" r="1.45"/>
<circle cx="198.9" cy="241.1" r="1.45"/>
<circle cx="199.6" cy="243.9" r="1.45"/>
<circle cx="203.8" cy="235.9" r="1.45"/>
<circle cx="205.2" cy="241.1" r="1.45"/>
<circle cx="204.5" cy="239.7" r="1.45"/>
<circle cx="208.0" cy="239.7" r="1.45"/>
<circle cx="211.5" cy="240.1" r="1.45"/>
<circle cx="208.0" cy="243.9" r="1.45"/>
<circle cx="211.5" cy="233.7" r="1.45"/>
<circle cx="222.0" cy="229.9" r="1.45"/>
<circle cx="222.0" cy="232.7" r="1.45"/>
<circle cx="226.9" cy="232.3" r="1.45"/>
<circle cx="222.0" cy="239.7" r="1.45"/>
<circle cx="226.9" cy="239.0" r="1.45"/>
<circle cx="222.0" cy="243.9" r="1.45"/>
<circle cx="184.2" cy="247.4" r="1.45"/>
<circle cx="186.9" cy="247.7" r="1.45"/>
<circle cx="183.7" cy="250.9" r="1.45"/>
<circle cx="186.9" cy="250.2" r="1.45"/>
<circle cx="192.1" cy="251.4" r="1.45"/>
<circle cx="196.3" cy="251.4" r="1.45"/>
<circle cx="198.6" cy="250.5" r="1.45"/>
<circle cx="203.1" cy="246.7" r="1.45"/>
<circle cx="204.8" cy="250.5" r="1.45"/>
<circle cx="216.1" cy="250.9" r="1.45"/>
<circle cx="211.8" cy="254.2" r="1.45"/>
<circle cx="226.9" cy="254.7" r="1.45"/>
<circle cx="196.3" cy="256.5" r="1.45"/>
<circle cx="211.5" cy="261.1" r="1.45"/>
<circle cx="192.1" cy="265.3" r="1.45"/>
</g>
<line x1="144.1" x2="230.89999999999998" y1="235.50" y2="235.50" stroke="#0a0a0a" stroke-width="0.85" stroke-dasharray="2.1,0.95"/>
<rect x="144.1" y="181.4" width="86.8" height="109.70000000000002" fill="none" stroke="#c8c8c8" stroke-width="0.6"/>
<rect x="198.1" y="184.5" width="32.8" height="17.4" rx="0.4" fill="#fff" fill-opacity="0.9" stroke="#8f8f8f" stroke-width="0.65"/>
<text x="228.1" y="191.2" font-size="6.3" text-anchor="end" fill="#222">LM=32.44</text>
<text x="228.1" y="198.0" font-size="6.3" text-anchor="end" fill="#222">p=0.000</text>
<text x="187.5" y="178.3" font-size="6.25" text-anchor="middle" fill="#262626">MARS</text>
<text x="187.5" y="308.7" font-size="5.8" text-anchor="middle" fill="#262626">Predicted CBR</text>
</g>
<g>
<clipPath id="c8"><rect x="256.6" y="181.4" width="86.8" height="109.70000000000002"/></clipPath>
<line x1="260.60" x2="260.60" y1="181.4" y2="291.1" stroke="#cccccc" stroke-width="0.7"/>
<text x="260.60" y="300.7" font-size="6.4" text-anchor="middle" fill="#262626">0</text>
<line x1="289.10" x2="289.10" y1="181.4" y2="291.1" stroke="#cccccc" stroke-width="0.7"/>
<text x="289.10" y="300.7" font-size="6.4" text-anchor="middle" fill="#262626">20</text>
<line x1="317.60" x2="317.60" y1="181.4" y2="291.1" stroke="#cccccc" stroke-width="0.7"/>
<text x="317.60" y="300.7" font-size="6.4" text-anchor="middle" fill="#262626">40</text>
<line x1="256.6" x2="343.40000000000003" y1="195.70" y2="195.70" stroke="#cccccc" stroke-width="0.7"/>
<text x="251.2" y="197.90" font-size="6.4" text-anchor="end" fill="#262626">20</text>
<line x1="256.6" x2="343.40000000000003" y1="215.45" y2="215.45" stroke="#cccccc" stroke-width="0.7"/>
<text x="251.2" y="217.65" font-size="6.4" text-anchor="end" fill="#262626">10</text>
<line x1="256.6" x2="343.40000000000003" y1="235.20" y2="235.20" stroke="#cccccc" stroke-width="0.7"/>
<text x="251.2" y="237.40" font-size="6.4" text-anchor="end" fill="#262626">0</text>
<line x1="256.6" x2="343.40000000000003" y1="254.95" y2="254.95" stroke="#cccccc" stroke-width="0.7"/>
<text x="251.2" y="257.15" font-size="6.4" text-anchor="end" fill="#262626">−10</text>
<line x1="256.6" x2="343.40000000000003" y1="274.70" y2="274.70" stroke="#cccccc" stroke-width="0.7"/>
<text x="251.2" y="276.90" font-size="6.4" text-anchor="end" fill="#262626">−20</text>
<g clip-path="url(#c8)" fill="#f58812" stroke="#38230f" stroke-width="0.55">
<circle cx="309.1" cy="188.3" r="1.45"/>
<circle cx="282.0" cy="202.3" r="1.45"/>
<circle cx="280.8" cy="208.3" r="1.45"/>
<circle cx="336.7" cy="208.3" r="1.45"/>
<circle cx="320.3" cy="210.7" r="1.45"/>
<circle cx="321.7" cy="210.7" r="1.45"/>
<circle cx="319.1" cy="212.6" r="1.45"/>
<circle cx="321.0" cy="212.1" r="1.45"/>
<circle cx="337.8" cy="212.8" r="1.45"/>
<circle cx="280.8" cy="215.9" r="1.45"/>
<circle cx="289.2" cy="215.6" r="1.45"/>
<circle cx="308.4" cy="216.6" r="1.45"/>
<circle cx="336.4" cy="215.6" r="1.45"/>
<circle cx="329.4" cy="217.5" r="1.45"/>
<circle cx="337.1" cy="219.1" r="1.45"/>
<circle cx="317.8" cy="220.3" r="1.45"/>
<circle cx="334.3" cy="221.7" r="1.45"/>
<circle cx="295.8" cy="223.3" r="1.45"/>
<circle cx="311.9" cy="223.3" r="1.45"/>
<circle cx="308.4" cy="224.3" r="1.45"/>
<circle cx="322.4" cy="223.3" r="1.45"/>
<circle cx="336.4" cy="220.5" r="1.45"/>
<circle cx="336.4" cy="225.3" r="1.45"/>
<circle cx="323.8" cy="226.4" r="1.45"/>
<circle cx="320.3" cy="227.1" r="1.45"/>
<circle cx="335.0" cy="227.5" r="1.45"/>
<circle cx="309.8" cy="227.8" r="1.45"/>
<circle cx="273.3" cy="228.5" r="1.45"/>
<circle cx="309.1" cy="230.6" r="1.45"/>
<circle cx="310.5" cy="232.0" r="1.45"/>
<circle cx="319.6" cy="229.9" r="1.45"/>
<circle cx="321.7" cy="229.2" r="1.45"/>
<circle cx="327.3" cy="229.9" r="1.45"/>
<circle cx="329.4" cy="232.0" r="1.45"/>
<circle cx="336.4" cy="230.6" r="1.45"/>
<circle cx="278.9" cy="230.3" r="1.45"/>
<circle cx="260.7" cy="230.9" r="1.45"/>
<circle cx="262.1" cy="232.0" r="1.45"/>
<circle cx="263.5" cy="231.3" r="1.45"/>
<circle cx="264.9" cy="232.7" r="1.45"/>
<circle cx="266.3" cy="231.7" r="1.45"/>
<circle cx="267.7" cy="231.3" r="1.45"/>
<circle cx="264.2" cy="234.1" r="1.45"/>
<circle cx="265.6" cy="234.8" r="1.45"/>
<circle cx="267.0" cy="233.7" r="1.45"/>
<circle cx="268.4" cy="235.5" r="1.45"/>
<circle cx="269.8" cy="234.5" r="1.45"/>
<circle cx="271.9" cy="232.7" r="1.45"/>
<circle cx="274.0" cy="231.3" r="1.45"/>
<circle cx="266.3" cy="236.9" r="1.45"/>
<circle cx="267.7" cy="237.9" r="1.45"/>
<circle cx="269.1" cy="236.9" r="1.45"/>
<circle cx="270.5" cy="239.0" r="1.45"/>
<circle cx="276.1" cy="235.5" r="1.45"/>
<circle cx="278.2" cy="234.1" r="1.45"/>
<circle cx="267.0" cy="239.0" r="1.45"/>
<circle cx="271.2" cy="241.1" r="1.45"/>
<circle cx="271.9" cy="243.2" r="1.45"/>
<circle cx="270.5" cy="244.6" r="1.45"/>
<circle cx="276.8" cy="242.5" r="1.45"/>
<circle cx="278.2" cy="243.2" r="1.45"/>
<circle cx="285.5" cy="244.6" r="1.45"/>
<circle cx="293.6" cy="232.7" r="1.45"/>
<circle cx="295.8" cy="232.0" r="1.45"/>
<circle cx="294.8" cy="234.8" r="1.45"/>
<circle cx="295.1" cy="239.0" r="1.45"/>
<circle cx="294.8" cy="243.2" r="1.45"/>
<circle cx="299.0" cy="239.7" r="1.45"/>
<circle cx="299.9" cy="243.2" r="1.45"/>
<circle cx="309.8" cy="235.5" r="1.45"/>
<circle cx="309.1" cy="238.3" r="1.45"/>
<circle cx="311.2" cy="241.1" r="1.45"/>
<circle cx="308.4" cy="247.2" r="1.45"/>
<circle cx="311.9" cy="249.1" r="1.45"/>
<circle cx="314.0" cy="250.0" r="1.45"/>
<circle cx="317.5" cy="234.8" r="1.45"/>
<circle cx="319.6" cy="233.4" r="1.45"/>
<circle cx="321.7" cy="232.7" r="1.45"/>
<circle cx="323.8" cy="234.8" r="1.45"/>
<circle cx="318.2" cy="236.9" r="1.45"/>
<circle cx="320.3" cy="237.6" r="1.45"/>
<circle cx="322.4" cy="236.2" r="1.45"/>
<circle cx="318.9" cy="239.0" r="1.45"/>
<circle cx="321.7" cy="239.7" r="1.45"/>
<circle cx="317.5" cy="241.1" r="1.45"/>
<circle cx="319.6" cy="241.8" r="1.45"/>
<circle cx="323.1" cy="241.1" r="1.45"/>
<circle cx="325.2" cy="239.0" r="1.45"/>
<circle cx="318.2" cy="243.9" r="1.45"/>
<circle cx="320.3" cy="243.2" r="1.45"/>
<circle cx="316.8" cy="245.3" r="1.45"/>
<circle cx="318.9" cy="246.7" r="1.45"/>
<circle cx="317.5" cy="248.8" r="1.45"/>
<circle cx="319.6" cy="249.5" r="1.45"/>
<circle cx="316.8" cy="251.6" r="1.45"/>
<circle cx="318.9" cy="252.3" r="1.45"/>
<circle cx="317.5" cy="254.2" r="1.45"/>
<circle cx="323.1" cy="245.3" r="1.45"/>
<circle cx="324.5" cy="243.9" r="1.45"/>
<circle cx="326.6" cy="243.2" r="1.45"/>
<circle cx="329.4" cy="234.8" r="1.45"/>
<circle cx="335.0" cy="235.1" r="1.45"/>
<circle cx="337.8" cy="235.1" r="1.45"/>
<circle cx="329.4" cy="243.2" r="1.45"/>
<circle cx="334.7" cy="241.8" r="1.45"/>
<circle cx="331.8" cy="250.2" r="1.45"/>
<circle cx="328.0" cy="252.3" r="1.45"/>
<circle cx="328.0" cy="254.2" r="1.45"/>
<circle cx="339.2" cy="251.4" r="1.45"/>
<circle cx="315.8" cy="258.9" r="1.45"/>
<circle cx="329.8" cy="259.4" r="1.45"/>
<circle cx="331.2" cy="261.1" r="1.45"/>
<circle cx="316.1" cy="273.0" r="1.45"/>
<circle cx="263.7" cy="233.1" r="1.45"/>
<circle cx="265.6" cy="234.4" r="1.45"/>
<circle cx="266.9" cy="236.3" r="1.45"/>
<circle cx="265.0" cy="238.2" r="1.45"/>
<circle cx="268.2" cy="238.2" r="1.45"/>
<circle cx="266.3" cy="232.4" r="1.45"/>
<circle cx="268.9" cy="235.7" r="1.45"/>
<circle cx="277.2" cy="234.4" r="1.45"/>
<circle cx="275.9" cy="236.3" r="1.45"/>
<circle cx="272.4" cy="229.9" r="1.45"/>
</g>
<line x1="256.6" x2="343.40000000000003" y1="235.50" y2="235.50" stroke="#0a0a0a" stroke-width="0.85" stroke-dasharray="2.1,0.95"/>
<rect x="256.6" y="181.4" width="86.8" height="109.70000000000002" fill="none" stroke="#c8c8c8" stroke-width="0.6"/>
<rect x="310.6" y="184.5" width="32.8" height="17.4" rx="0.4" fill="#fff" fill-opacity="0.9" stroke="#8f8f8f" stroke-width="0.65"/>
<text x="340.6" y="191.2" font-size="6.3" text-anchor="end" fill="#222">LM=54.08</text>
<text x="340.6" y="198.0" font-size="6.3" text-anchor="end" fill="#222">p=0.000</text>
<text x="300.0" y="178.3" font-size="6.25" text-anchor="middle" fill="#262626">M5p-MT</text>
<text x="300.0" y="308.7" font-size="5.8" text-anchor="middle" fill="#262626">Predicted CBR</text>
</g>
<g>
<clipPath id="c9"><rect x="369.1" y="181.4" width="86.8" height="109.70000000000002"/></clipPath>
<line x1="373.80" x2="373.80" y1="181.4" y2="291.1" stroke="#cccccc" stroke-width="0.7"/>
<text x="373.80" y="300.7" font-size="6.4" text-anchor="middle" fill="#262626">0</text>
<line x1="397.30" x2="397.30" y1="181.4" y2="291.1" stroke="#cccccc" stroke-width="0.7"/>
<text x="397.30" y="300.7" font-size="6.4" text-anchor="middle" fill="#262626">20</text>
<line x1="420.80" x2="420.80" y1="181.4" y2="291.1" stroke="#cccccc" stroke-width="0.7"/>
<text x="420.80" y="300.7" font-size="6.4" text-anchor="middle" fill="#262626">40</text>
<line x1="444.30" x2="444.30" y1="181.4" y2="291.1" stroke="#cccccc" stroke-width="0.7"/>
<text x="444.30" y="300.7" font-size="6.4" text-anchor="middle" fill="#262626">60</text>
<line x1="369.1" x2="455.90000000000003" y1="195.70" y2="195.70" stroke="#cccccc" stroke-width="0.7"/>
<text x="363.7" y="197.90" font-size="6.4" text-anchor="end" fill="#262626">20</text>
<line x1="369.1" x2="455.90000000000003" y1="215.45" y2="215.45" stroke="#cccccc" stroke-width="0.7"/>
<text x="363.7" y="217.65" font-size="6.4" text-anchor="end" fill="#262626">10</text>
<line x1="369.1" x2="455.90000000000003" y1="235.20" y2="235.20" stroke="#cccccc" stroke-width="0.7"/>
<text x="363.7" y="237.40" font-size="6.4" text-anchor="end" fill="#262626">0</text>
<line x1="369.1" x2="455.90000000000003" y1="254.95" y2="254.95" stroke="#cccccc" stroke-width="0.7"/>
<text x="363.7" y="257.15" font-size="6.4" text-anchor="end" fill="#262626">−10</text>
<line x1="369.1" x2="455.90000000000003" y1="274.70" y2="274.70" stroke="#cccccc" stroke-width="0.7"/>
<text x="363.7" y="276.90" font-size="6.4" text-anchor="end" fill="#262626">−20</text>
<g clip-path="url(#c9)" fill="#f58812" stroke="#38230f" stroke-width="0.55">
<circle cx="421.8" cy="202.0" r="1.45"/>
<circle cx="434.7" cy="207.9" r="1.45"/>
<circle cx="422.5" cy="211.4" r="1.45"/>
<circle cx="434.7" cy="214.5" r="1.45"/>
<circle cx="400.7" cy="218.7" r="1.45"/>
<circle cx="414.1" cy="218.2" r="1.45"/>
<circle cx="416.6" cy="220.1" r="1.45"/>
<circle cx="431.1" cy="219.1" r="1.45"/>
<circle cx="430.9" cy="222.6" r="1.45"/>
<circle cx="422.5" cy="222.6" r="1.45"/>
<circle cx="424.6" cy="223.3" r="1.45"/>
<circle cx="409.9" cy="223.6" r="1.45"/>
<circle cx="379.0" cy="224.1" r="1.45"/>
<circle cx="441.4" cy="224.1" r="1.45"/>
<circle cx="413.4" cy="224.8" r="1.45"/>
<circle cx="421.8" cy="226.4" r="1.45"/>
<circle cx="427.4" cy="227.5" r="1.45"/>
<circle cx="399.3" cy="227.5" r="1.45"/>
<circle cx="383.2" cy="228.1" r="1.45"/>
<circle cx="374.1" cy="228.1" r="1.45"/>
<circle cx="375.5" cy="226.7" r="1.45"/>
<circle cx="400.0" cy="229.5" r="1.45"/>
<circle cx="402.8" cy="230.6" r="1.45"/>
<circle cx="409.1" cy="231.3" r="1.45"/>
<circle cx="414.1" cy="229.9" r="1.45"/>
<circle cx="416.9" cy="229.5" r="1.45"/>
<circle cx="421.1" cy="230.6" r="1.45"/>
<circle cx="435.8" cy="229.5" r="1.45"/>
<circle cx="434.4" cy="230.6" r="1.45"/>
<circle cx="442.4" cy="231.7" r="1.45"/>
<circle cx="373.4" cy="229.2" r="1.45"/>
<circle cx="374.8" cy="230.6" r="1.45"/>
<circle cx="376.2" cy="229.9" r="1.45"/>
<circle cx="374.1" cy="232.0" r="1.45"/>
<circle cx="375.5" cy="232.7" r="1.45"/>
<circle cx="376.9" cy="231.7" r="1.45"/>
<circle cx="378.3" cy="231.3" r="1.45"/>
<circle cx="374.8" cy="234.1" r="1.45"/>
<circle cx="376.2" cy="234.8" r="1.45"/>
<circle cx="377.6" cy="233.7" r="1.45"/>
<circle cx="379.0" cy="233.1" r="1.45"/>
<circle cx="380.4" cy="234.5" r="1.45"/>
<circle cx="376.9" cy="236.2" r="1.45"/>
<circle cx="378.3" cy="236.9" r="1.45"/>
<circle cx="379.7" cy="235.9" r="1.45"/>
<circle cx="381.8" cy="235.5" r="1.45"/>
<circle cx="383.9" cy="234.8" r="1.45"/>
<circle cx="378.3" cy="238.3" r="1.45"/>
<circle cx="379.7" cy="239.0" r="1.45"/>
<circle cx="381.1" cy="237.9" r="1.45"/>
<circle cx="379.0" cy="240.4" r="1.45"/>
<circle cx="380.4" cy="241.1" r="1.45"/>
<circle cx="381.8" cy="240.1" r="1.45"/>
<circle cx="381.1" cy="242.5" r="1.45"/>
<circle cx="382.5" cy="243.2" r="1.45"/>
<circle cx="383.9" cy="242.1" r="1.45"/>
<circle cx="382.5" cy="244.6" r="1.45"/>
<circle cx="383.9" cy="245.8" r="1.45"/>
<circle cx="385.3" cy="244.6" r="1.45"/>
<circle cx="384.6" cy="247.2" r="1.45"/>
<circle cx="386.0" cy="248.1" r="1.45"/>
<circle cx="387.4" cy="246.7" r="1.45"/>
<circle cx="386.7" cy="249.5" r="1.45"/>
<circle cx="388.1" cy="250.9" r="1.45"/>
<circle cx="389.5" cy="251.6" r="1.45"/>
<circle cx="391.6" cy="256.1" r="1.45"/>
<circle cx="386.7" cy="234.8" r="1.45"/>
<circle cx="388.8" cy="235.5" r="1.45"/>
<circle cx="391.6" cy="234.1" r="1.45"/>
<circle cx="390.9" cy="239.0" r="1.45"/>
<circle cx="392.3" cy="241.8" r="1.45"/>
<circle cx="398.6" cy="231.7" r="1.45"/>
<circle cx="399.3" cy="234.5" r="1.45"/>
<circle cx="398.6" cy="238.3" r="1.45"/>
<circle cx="403.5" cy="233.4" r="1.45"/>
<circle cx="404.2" cy="236.2" r="1.45"/>
<circle cx="403.5" cy="239.0" r="1.45"/>
<circle cx="398.2" cy="251.6" r="1.45"/>
<circle cx="409.1" cy="232.7" r="1.45"/>
<circle cx="409.9" cy="235.5" r="1.45"/>
<circle cx="414.1" cy="232.0" r="1.45"/>
<circle cx="413.4" cy="234.8" r="1.45"/>
<circle cx="414.8" cy="236.9" r="1.45"/>
<circle cx="416.9" cy="232.7" r="1.45"/>
<circle cx="417.6" cy="235.5" r="1.45"/>
<circle cx="409.9" cy="241.1" r="1.45"/>
<circle cx="413.4" cy="243.2" r="1.45"/>
<circle cx="414.1" cy="245.3" r="1.45"/>
<circle cx="416.9" cy="237.6" r="1.45"/>
<circle cx="421.1" cy="233.4" r="1.45"/>
<circle cx="422.5" cy="235.5" r="1.45"/>
<circle cx="424.6" cy="232.7" r="1.45"/>
<circle cx="426.7" cy="234.1" r="1.45"/>
<circle cx="420.4" cy="237.6" r="1.45"/>
<circle cx="422.5" cy="239.0" r="1.45"/>
<circle cx="424.6" cy="237.6" r="1.45"/>
<circle cx="426.7" cy="236.9" r="1.45"/>
<circle cx="421.1" cy="241.1" r="1.45"/>
<circle cx="423.2" cy="241.8" r="1.45"/>
<circle cx="425.3" cy="240.4" r="1.45"/>
<circle cx="427.4" cy="241.1" r="1.45"/>
<circle cx="420.4" cy="243.2" r="1.45"/>
<circle cx="421.8" cy="245.3" r="1.45"/>
<circle cx="420.4" cy="247.2" r="1.45"/>
<circle cx="430.9" cy="232.7" r="1.45"/>
<circle cx="430.9" cy="236.9" r="1.45"/>
<circle cx="435.1" cy="234.8" r="1.45"/>
<circle cx="436.5" cy="237.6" r="1.45"/>
<circle cx="441.4" cy="235.5" r="1.45"/>
<circle cx="441.4" cy="239.0" r="1.45"/>
<circle cx="430.9" cy="243.9" r="1.45"/>
<circle cx="435.8" cy="243.9" r="1.45"/>
<circle cx="452.6" cy="234.5" r="1.45"/>
<circle cx="430.9" cy="248.1" r="1.45"/>
<circle cx="433.0" cy="250.0" r="1.45"/>
<circle cx="428.8" cy="249.1" r="1.45"/>
<circle cx="426.7" cy="250.2" r="1.45"/>
<circle cx="424.6" cy="251.6" r="1.45"/>
<circle cx="422.7" cy="253.3" r="1.45"/>
<circle cx="451.9" cy="251.9" r="1.45"/>
<circle cx="418.3" cy="257.0" r="1.45"/>
<circle cx="432.6" cy="259.4" r="1.45"/>
<circle cx="397.2" cy="264.9" r="1.45"/>
<circle cx="436.1" cy="264.9" r="1.45"/>
<circle cx="418.0" cy="270.9" r="1.45"/>
<circle cx="451.9" cy="273.7" r="1.45"/>
<circle cx="374.6" cy="230.6" r="1.45"/>
<circle cx="376.2" cy="232.8" r="1.45"/>
<circle cx="377.9" cy="234.9" r="1.45"/>
<circle cx="379.5" cy="237.1" r="1.45"/>
<circle cx="381.1" cy="239.9" r="1.45"/>
<circle cx="382.8" cy="242.1" r="1.45"/>
<circle cx="384.4" cy="244.8" r="1.45"/>
<circle cx="386.1" cy="247.0" r="1.45"/>
<circle cx="387.7" cy="249.2" r="1.45"/>
<circle cx="375.7" cy="234.9" r="1.45"/>
<circle cx="378.4" cy="238.2" r="1.45"/>
<circle cx="380.6" cy="241.5" r="1.45"/>
<circle cx="383.3" cy="245.3" r="1.45"/>
<circle cx="385.5" cy="248.6" r="1.45"/>
<circle cx="377.3" cy="230.6" r="1.45"/>
<circle cx="380.0" cy="234.4" r="1.45"/>
</g>
<line x1="369.1" x2="455.90000000000003" y1="235.50" y2="235.50" stroke="#0a0a0a" stroke-width="0.85" stroke-dasharray="2.1,0.95"/>
<rect x="369.1" y="181.4" width="86.8" height="109.70000000000002" fill="none" stroke="#c8c8c8" stroke-width="0.6"/>
<rect x="423.1" y="184.5" width="32.8" height="17.4" rx="0.4" fill="#fff" fill-opacity="0.9" stroke="#8f8f8f" stroke-width="0.65"/>
<text x="453.1" y="191.2" font-size="6.3" text-anchor="end" fill="#222">LM=49.94</text>
<text x="453.1" y="198.0" font-size="6.3" text-anchor="end" fill="#222">p=0.000</text>
<text x="412.5" y="178.3" font-size="6.25" text-anchor="middle" fill="#262626">LWP</text>
<text x="412.5" y="308.7" font-size="5.8" text-anchor="middle" fill="#262626">Predicted CBR</text>
</g>
<g>
<clipPath id="c10"><rect x="481.6" y="181.4" width="86.8" height="109.70000000000002"/></clipPath>
<line x1="483.10" x2="483.10" y1="181.4" y2="291.1" stroke="#cccccc" stroke-width="0.7"/>
<text x="483.10" y="300.7" font-size="6.4" text-anchor="middle" fill="#262626">0</text>
<line x1="508.90" x2="508.90" y1="181.4" y2="291.1" stroke="#cccccc" stroke-width="0.7"/>
<text x="508.90" y="300.7" font-size="6.4" text-anchor="middle" fill="#262626">20</text>
<line x1="534.70" x2="534.70" y1="181.4" y2="291.1" stroke="#cccccc" stroke-width="0.7"/>
<text x="534.70" y="300.7" font-size="6.4" text-anchor="middle" fill="#262626">40</text>
<line x1="560.50" x2="560.50" y1="181.4" y2="291.1" stroke="#cccccc" stroke-width="0.7"/>
<text x="560.50" y="300.7" font-size="6.4" text-anchor="middle" fill="#262626">60</text>
<line x1="481.6" x2="568.4" y1="195.70" y2="195.70" stroke="#cccccc" stroke-width="0.7"/>
<text x="476.2" y="197.90" font-size="6.4" text-anchor="end" fill="#262626">20</text>
<line x1="481.6" x2="568.4" y1="215.45" y2="215.45" stroke="#cccccc" stroke-width="0.7"/>
<text x="476.2" y="217.65" font-size="6.4" text-anchor="end" fill="#262626">10</text>
<line x1="481.6" x2="568.4" y1="235.20" y2="235.20" stroke="#cccccc" stroke-width="0.7"/>
<text x="476.2" y="237.40" font-size="6.4" text-anchor="end" fill="#262626">0</text>
<line x1="481.6" x2="568.4" y1="254.95" y2="254.95" stroke="#cccccc" stroke-width="0.7"/>
<text x="476.2" y="257.15" font-size="6.4" text-anchor="end" fill="#262626">−10</text>
<line x1="481.6" x2="568.4" y1="274.70" y2="274.70" stroke="#cccccc" stroke-width="0.7"/>
<text x="476.2" y="276.90" font-size="6.4" text-anchor="end" fill="#262626">−20</text>
<g clip-path="url(#c10)" fill="#f58812" stroke="#38230f" stroke-width="0.55">
<circle cx="536.6" cy="211.0" r="1.45"/>
<circle cx="541.1" cy="210.3" r="1.45"/>
<circle cx="525.0" cy="214.9" r="1.45"/>
<circle cx="551.3" cy="217.3" r="1.45"/>
<circle cx="536.2" cy="219.1" r="1.45"/>
<circle cx="546.3" cy="219.6" r="1.45"/>
<circle cx="541.1" cy="220.5" r="1.45"/>
<circle cx="550.9" cy="220.5" r="1.45"/>
<circle cx="539.0" cy="222.9" r="1.45"/>
<circle cx="514.7" cy="223.6" r="1.45"/>
<circle cx="521.7" cy="223.3" r="1.45"/>
<circle cx="527.8" cy="224.5" r="1.45"/>
<circle cx="547.4" cy="224.1" r="1.45"/>
<circle cx="559.7" cy="224.1" r="1.45"/>
<circle cx="520.0" cy="225.7" r="1.45"/>
<circle cx="519.4" cy="228.1" r="1.45"/>
<circle cx="549.5" cy="227.1" r="1.45"/>
<circle cx="539.7" cy="227.1" r="1.45"/>
<circle cx="536.9" cy="228.1" r="1.45"/>
<circle cx="564.5" cy="228.1" r="1.45"/>
<circle cx="559.0" cy="228.1" r="1.45"/>
<circle cx="526.4" cy="228.5" r="1.45"/>
<circle cx="529.2" cy="227.8" r="1.45"/>
<circle cx="530.6" cy="229.9" r="1.45"/>
<circle cx="541.1" cy="229.9" r="1.45"/>
<circle cx="515.1" cy="230.3" r="1.45"/>
<circle cx="560.0" cy="230.9" r="1.45"/>
<circle cx="486.4" cy="234.1" r="1.45"/>
<circle cx="487.8" cy="233.1" r="1.45"/>
<circle cx="489.2" cy="232.7" r="1.45"/>
<circle cx="487.1" cy="235.5" r="1.45"/>
<circle cx="488.5" cy="236.2" r="1.45"/>
<circle cx="489.9" cy="234.8" r="1.45"/>
<circle cx="485.7" cy="236.9" r="1.45"/>
<circle cx="488.1" cy="238.3" r="1.45"/>
<circle cx="492.0" cy="234.1" r="1.45"/>
<circle cx="494.1" cy="233.1" r="1.45"/>
<circle cx="495.5" cy="231.3" r="1.45"/>
<circle cx="496.2" cy="234.1" r="1.45"/>
<circle cx="497.6" cy="232.0" r="1.45"/>
<circle cx="500.4" cy="231.7" r="1.45"/>
<circle cx="495.5" cy="236.2" r="1.45"/>
<circle cx="498.3" cy="235.5" r="1.45"/>
<circle cx="499.7" cy="237.6" r="1.45"/>
<circle cx="493.7" cy="240.1" r="1.45"/>
<circle cx="491.3" cy="237.6" r="1.45"/>
<circle cx="511.6" cy="232.7" r="1.45"/>
<circle cx="513.0" cy="234.8" r="1.45"/>
<circle cx="515.1" cy="234.1" r="1.45"/>
<circle cx="511.6" cy="236.9" r="1.45"/>
<circle cx="513.7" cy="236.9" r="1.45"/>
<circle cx="515.8" cy="236.2" r="1.45"/>
<circle cx="517.9" cy="235.5" r="1.45"/>
<circle cx="520.8" cy="235.5" r="1.45"/>
<circle cx="511.6" cy="241.1" r="1.45"/>
<circle cx="516.5" cy="239.0" r="1.45"/>
<circle cx="526.4" cy="232.7" r="1.45"/>
<circle cx="528.5" cy="232.0" r="1.45"/>
<circle cx="530.6" cy="232.0" r="1.45"/>
<circle cx="527.0" cy="234.8" r="1.45"/>
<circle cx="529.2" cy="234.1" r="1.45"/>
<circle cx="531.3" cy="235.5" r="1.45"/>
<circle cx="533.4" cy="234.8" r="1.45"/>
<circle cx="526.4" cy="237.6" r="1.45"/>
<circle cx="528.5" cy="236.9" r="1.45"/>
<circle cx="530.6" cy="237.6" r="1.45"/>
<circle cx="527.0" cy="239.7" r="1.45"/>
<circle cx="529.2" cy="239.0" r="1.45"/>
<circle cx="531.3" cy="239.7" r="1.45"/>
<circle cx="533.4" cy="239.0" r="1.45"/>
<circle cx="535.2" cy="239.7" r="1.45"/>
<circle cx="526.4" cy="241.8" r="1.45"/>
<circle cx="529.9" cy="243.2" r="1.45"/>
<circle cx="532.7" cy="242.5" r="1.45"/>
<circle cx="539.0" cy="232.0" r="1.45"/>
<circle cx="540.4" cy="231.3" r="1.45"/>
<circle cx="538.3" cy="235.5" r="1.45"/>
<circle cx="540.4" cy="234.8" r="1.45"/>
<circle cx="541.8" cy="236.2" r="1.45"/>
<circle cx="539.0" cy="237.6" r="1.45"/>
<circle cx="541.1" cy="238.3" r="1.45"/>
<circle cx="538.3" cy="240.4" r="1.45"/>
<circle cx="540.4" cy="241.1" r="1.45"/>
<circle cx="542.5" cy="240.4" r="1.45"/>
<circle cx="539.0" cy="242.5" r="1.45"/>
<circle cx="541.1" cy="243.2" r="1.45"/>
<circle cx="546.0" cy="233.4" r="1.45"/>
<circle cx="546.7" cy="236.9" r="1.45"/>
<circle cx="549.5" cy="235.5" r="1.45"/>
<circle cx="548.8" cy="241.1" r="1.45"/>
<circle cx="544.6" cy="243.9" r="1.45"/>
<circle cx="546.7" cy="246.0" r="1.45"/>
<circle cx="543.9" cy="247.4" r="1.45"/>
<circle cx="539.0" cy="246.7" r="1.45"/>
<circle cx="558.6" cy="236.9" r="1.45"/>
<circle cx="559.0" cy="242.5" r="1.45"/>
<circle cx="560.0" cy="246.0" r="1.45"/>
<circle cx="564.2" cy="245.8" r="1.45"/>
<circle cx="520.8" cy="245.8" r="1.45"/>
<circle cx="525.6" cy="246.7" r="1.45"/>
<circle cx="531.3" cy="250.2" r="1.45"/>
<circle cx="536.2" cy="253.0" r="1.45"/>
<circle cx="541.1" cy="251.9" r="1.45"/>
<circle cx="547.0" cy="251.4" r="1.45"/>
<circle cx="522.9" cy="257.9" r="1.45"/>
<circle cx="549.5" cy="262.2" r="1.45"/>
<circle cx="564.5" cy="267.7" r="1.45"/>
<circle cx="514.7" cy="275.1" r="1.45"/>
<circle cx="486.4" cy="234.3" r="1.45"/>
<circle cx="487.4" cy="235.2" r="1.45"/>
<circle cx="488.4" cy="233.7" r="1.45"/>
<circle cx="489.3" cy="234.6" r="1.45"/>
<circle cx="487.7" cy="236.9" r="1.45"/>
<circle cx="495.8" cy="232.4" r="1.45"/>
<circle cx="496.1" cy="234.6" r="1.45"/>
<circle cx="494.8" cy="236.2" r="1.45"/>
</g>
<line x1="481.6" x2="568.4" y1="235.50" y2="235.50" stroke="#0a0a0a" stroke-width="0.85" stroke-dasharray="2.1,0.95"/>
<rect x="481.6" y="181.4" width="86.8" height="109.70000000000002" fill="none" stroke="#c8c8c8" stroke-width="0.6"/>
<rect x="535.6" y="184.5" width="32.8" height="17.4" rx="0.4" fill="#fff" fill-opacity="0.9" stroke="#8f8f8f" stroke-width="0.65"/>
<text x="565.6" y="191.2" font-size="6.3" text-anchor="end" fill="#222">LM=49.52</text>
<text x="565.6" y="198.0" font-size="6.3" text-anchor="end" fill="#222">p=0.000</text>
<text x="525.0" y="178.3" font-size="6.25" text-anchor="middle" fill="#262626">XGBoost</text>
<text x="525.0" y="308.7" font-size="5.8" text-anchor="middle" fill="#262626">Predicted CBR</text>
</g>
<g>
<clipPath id="c11"><rect x="594.1" y="181.4" width="86.8" height="109.70000000000002"/></clipPath>
<line x1="599.40" x2="599.40" y1="181.4" y2="291.1" stroke="#cccccc" stroke-width="0.7"/>
<text x="599.40" y="300.7" font-size="6.4" text-anchor="middle" fill="#262626">0</text>
<line x1="622.20" x2="622.20" y1="181.4" y2="291.1" stroke="#cccccc" stroke-width="0.7"/>
<text x="622.20" y="300.7" font-size="6.4" text-anchor="middle" fill="#262626">20</text>
<line x1="645.00" x2="645.00" y1="181.4" y2="291.1" stroke="#cccccc" stroke-width="0.7"/>
<text x="645.00" y="300.7" font-size="6.4" text-anchor="middle" fill="#262626">40</text>
<line x1="667.80" x2="667.80" y1="181.4" y2="291.1" stroke="#cccccc" stroke-width="0.7"/>
<text x="667.80" y="300.7" font-size="6.4" text-anchor="middle" fill="#262626">60</text>
<line x1="594.1" x2="680.9" y1="195.70" y2="195.70" stroke="#cccccc" stroke-width="0.7"/>
<text x="588.7" y="197.90" font-size="6.4" text-anchor="end" fill="#262626">20</text>
<line x1="594.1" x2="680.9" y1="215.45" y2="215.45" stroke="#cccccc" stroke-width="0.7"/>
<text x="588.7" y="217.65" font-size="6.4" text-anchor="end" fill="#262626">10</text>
<line x1="594.1" x2="680.9" y1="235.20" y2="235.20" stroke="#cccccc" stroke-width="0.7"/>
<text x="588.7" y="237.40" font-size="6.4" text-anchor="end" fill="#262626">0</text>
<line x1="594.1" x2="680.9" y1="254.95" y2="254.95" stroke="#cccccc" stroke-width="0.7"/>
<text x="588.7" y="257.15" font-size="6.4" text-anchor="end" fill="#262626">−10</text>
<line x1="594.1" x2="680.9" y1="274.70" y2="274.70" stroke="#cccccc" stroke-width="0.7"/>
<text x="588.7" y="276.90" font-size="6.4" text-anchor="end" fill="#262626">−20</text>
<g clip-path="url(#c11)" fill="#f58812" stroke="#38230f" stroke-width="0.55">
<circle cx="643.4" cy="204.8" r="1.45"/>
<circle cx="613.8" cy="220.5" r="1.45"/>
<circle cx="660.8" cy="220.1" r="1.45"/>
<circle cx="626.1" cy="221.5" r="1.45"/>
<circle cx="643.0" cy="222.2" r="1.45"/>
<circle cx="610.0" cy="222.9" r="1.45"/>
<circle cx="654.6" cy="222.6" r="1.45"/>
<circle cx="648.6" cy="223.3" r="1.45"/>
<circle cx="605.8" cy="224.1" r="1.45"/>
<circle cx="598.1" cy="224.3" r="1.45"/>
<circle cx="658.4" cy="224.3" r="1.45"/>
<circle cx="642.3" cy="224.1" r="1.45"/>
<circle cx="647.9" cy="225.7" r="1.45"/>
<circle cx="643.0" cy="226.4" r="1.45"/>
<circle cx="654.6" cy="226.1" r="1.45"/>
<circle cx="608.6" cy="227.1" r="1.45"/>
<circle cx="626.1" cy="227.8" r="1.45"/>
<circle cx="601.6" cy="227.1" r="1.45"/>
<circle cx="605.8" cy="225.7" r="1.45"/>
<circle cx="600.9" cy="229.9" r="1.45"/>
<circle cx="602.3" cy="231.3" r="1.45"/>
<circle cx="603.7" cy="230.6" r="1.45"/>
<circle cx="601.6" cy="232.7" r="1.45"/>
<circle cx="603.0" cy="233.7" r="1.45"/>
<circle cx="604.4" cy="232.7" r="1.45"/>
<circle cx="605.8" cy="232.0" r="1.45"/>
<circle cx="602.3" cy="235.5" r="1.45"/>
<circle cx="603.7" cy="236.2" r="1.45"/>
<circle cx="605.1" cy="234.8" r="1.45"/>
<circle cx="606.5" cy="234.1" r="1.45"/>
<circle cx="607.9" cy="233.1" r="1.45"/>
<circle cx="603.7" cy="238.3" r="1.45"/>
<circle cx="605.1" cy="239.0" r="1.45"/>
<circle cx="606.5" cy="237.6" r="1.45"/>
<circle cx="607.9" cy="236.9" r="1.45"/>
<circle cx="609.3" cy="235.5" r="1.45"/>
<circle cx="605.8" cy="241.1" r="1.45"/>
<circle cx="607.2" cy="241.8" r="1.45"/>
<circle cx="608.6" cy="240.4" r="1.45"/>
<circle cx="610.0" cy="239.0" r="1.45"/>
<circle cx="607.9" cy="243.9" r="1.45"/>
<circle cx="609.3" cy="244.6" r="1.45"/>
<circle cx="610.7" cy="243.2" r="1.45"/>
<circle cx="612.1" cy="241.8" r="1.45"/>
<circle cx="610.0" cy="246.0" r="1.45"/>
<circle cx="614.2" cy="245.3" r="1.45"/>
<circle cx="607.2" cy="228.5" r="1.45"/>
<circle cx="610.0" cy="229.9" r="1.45"/>
<circle cx="611.4" cy="232.0" r="1.45"/>
<circle cx="612.1" cy="234.1" r="1.45"/>
<circle cx="614.9" cy="236.9" r="1.45"/>
<circle cx="616.3" cy="239.7" r="1.45"/>
<circle cx="617.7" cy="241.1" r="1.45"/>
<circle cx="626.1" cy="229.9" r="1.45"/>
<circle cx="625.2" cy="232.7" r="1.45"/>
<circle cx="622.6" cy="234.8" r="1.45"/>
<circle cx="624.7" cy="235.9" r="1.45"/>
<circle cx="626.8" cy="236.2" r="1.45"/>
<circle cx="628.9" cy="235.5" r="1.45"/>
<circle cx="630.8" cy="230.6" r="1.45"/>
<circle cx="629.6" cy="239.0" r="1.45"/>
<circle cx="630.4" cy="241.8" r="1.45"/>
<circle cx="632.5" cy="237.6" r="1.45"/>
<circle cx="633.1" cy="239.7" r="1.45"/>
<circle cx="633.9" cy="232.7" r="1.45"/>
<circle cx="636.0" cy="231.3" r="1.45"/>
<circle cx="638.0" cy="229.9" r="1.45"/>
<circle cx="640.2" cy="230.6" r="1.45"/>
<circle cx="642.3" cy="229.5" r="1.45"/>
<circle cx="644.4" cy="230.6" r="1.45"/>
<circle cx="646.5" cy="230.3" r="1.45"/>
<circle cx="635.2" cy="234.8" r="1.45"/>
<circle cx="637.4" cy="234.1" r="1.45"/>
<circle cx="639.5" cy="234.8" r="1.45"/>
<circle cx="641.6" cy="233.4" r="1.45"/>
<circle cx="643.7" cy="234.8" r="1.45"/>
<circle cx="645.8" cy="234.1" r="1.45"/>
<circle cx="647.9" cy="232.7" r="1.45"/>
<circle cx="641.6" cy="237.6" r="1.45"/>
<circle cx="643.7" cy="238.3" r="1.45"/>
<circle cx="645.8" cy="237.6" r="1.45"/>
<circle cx="640.9" cy="240.4" r="1.45"/>
<circle cx="643.0" cy="241.1" r="1.45"/>
<circle cx="641.6" cy="243.2" r="1.45"/>
<circle cx="640.2" cy="245.3" r="1.45"/>
<circle cx="633.1" cy="246.7" r="1.45"/>
<circle cx="648.6" cy="234.8" r="1.45"/>
<circle cx="650.7" cy="234.1" r="1.45"/>
<circle cx="652.8" cy="232.7" r="1.45"/>
<circle cx="654.2" cy="232.0" r="1.45"/>
<circle cx="650.7" cy="236.2" r="1.45"/>
<circle cx="652.8" cy="235.5" r="1.45"/>
<circle cx="654.9" cy="234.8" r="1.45"/>
<circle cx="656.3" cy="236.2" r="1.45"/>
<circle cx="651.4" cy="239.7" r="1.45"/>
<circle cx="654.9" cy="238.7" r="1.45"/>
<circle cx="659.1" cy="235.5" r="1.45"/>
<circle cx="661.9" cy="234.8" r="1.45"/>
<circle cx="665.4" cy="236.2" r="1.45"/>
<circle cx="667.5" cy="235.5" r="1.45"/>
<circle cx="669.6" cy="234.8" r="1.45"/>
<circle cx="672.4" cy="233.7" r="1.45"/>
<circle cx="671.0" cy="236.9" r="1.45"/>
<circle cx="667.5" cy="240.1" r="1.45"/>
<circle cx="661.9" cy="242.1" r="1.45"/>
<circle cx="677.0" cy="239.3" r="1.45"/>
<circle cx="641.6" cy="248.1" r="1.45"/>
<circle cx="643.7" cy="247.7" r="1.45"/>
<circle cx="647.9" cy="246.0" r="1.45"/>
<circle cx="649.3" cy="248.1" r="1.45"/>
<circle cx="654.9" cy="246.7" r="1.45"/>
<circle cx="653.5" cy="249.5" r="1.45"/>
<circle cx="652.8" cy="251.6" r="1.45"/>
<circle cx="655.6" cy="250.9" r="1.45"/>
<circle cx="657.0" cy="252.3" r="1.45"/>
<circle cx="661.9" cy="248.6" r="1.45"/>
<circle cx="671.0" cy="251.4" r="1.45"/>
<circle cx="635.2" cy="256.5" r="1.45"/>
<circle cx="650.4" cy="259.4" r="1.45"/>
</g>
<line x1="594.1" x2="680.9" y1="235.50" y2="235.50" stroke="#0a0a0a" stroke-width="0.85" stroke-dasharray="2.1,0.95"/>
<rect x="594.1" y="181.4" width="86.8" height="109.70000000000002" fill="none" stroke="#c8c8c8" stroke-width="0.6"/>
<rect x="648.1" y="184.5" width="32.8" height="17.4" rx="0.4" fill="#fff" fill-opacity="0.9" stroke="#8f8f8f" stroke-width="0.65"/>
<text x="678.1" y="191.2" font-size="6.3" text-anchor="end" fill="#222">LM=29.92</text>
<text x="678.1" y="198.0" font-size="6.3" text-anchor="end" fill="#222">p=0.002</text>
<text x="637.5" y="178.3" font-size="6.25" text-anchor="middle" fill="#262626">LSTM</text>
<text x="637.5" y="308.7" font-size="5.8" text-anchor="middle" fill="#262626">Predicted CBR</text>
</g>
</svg></body></html>
